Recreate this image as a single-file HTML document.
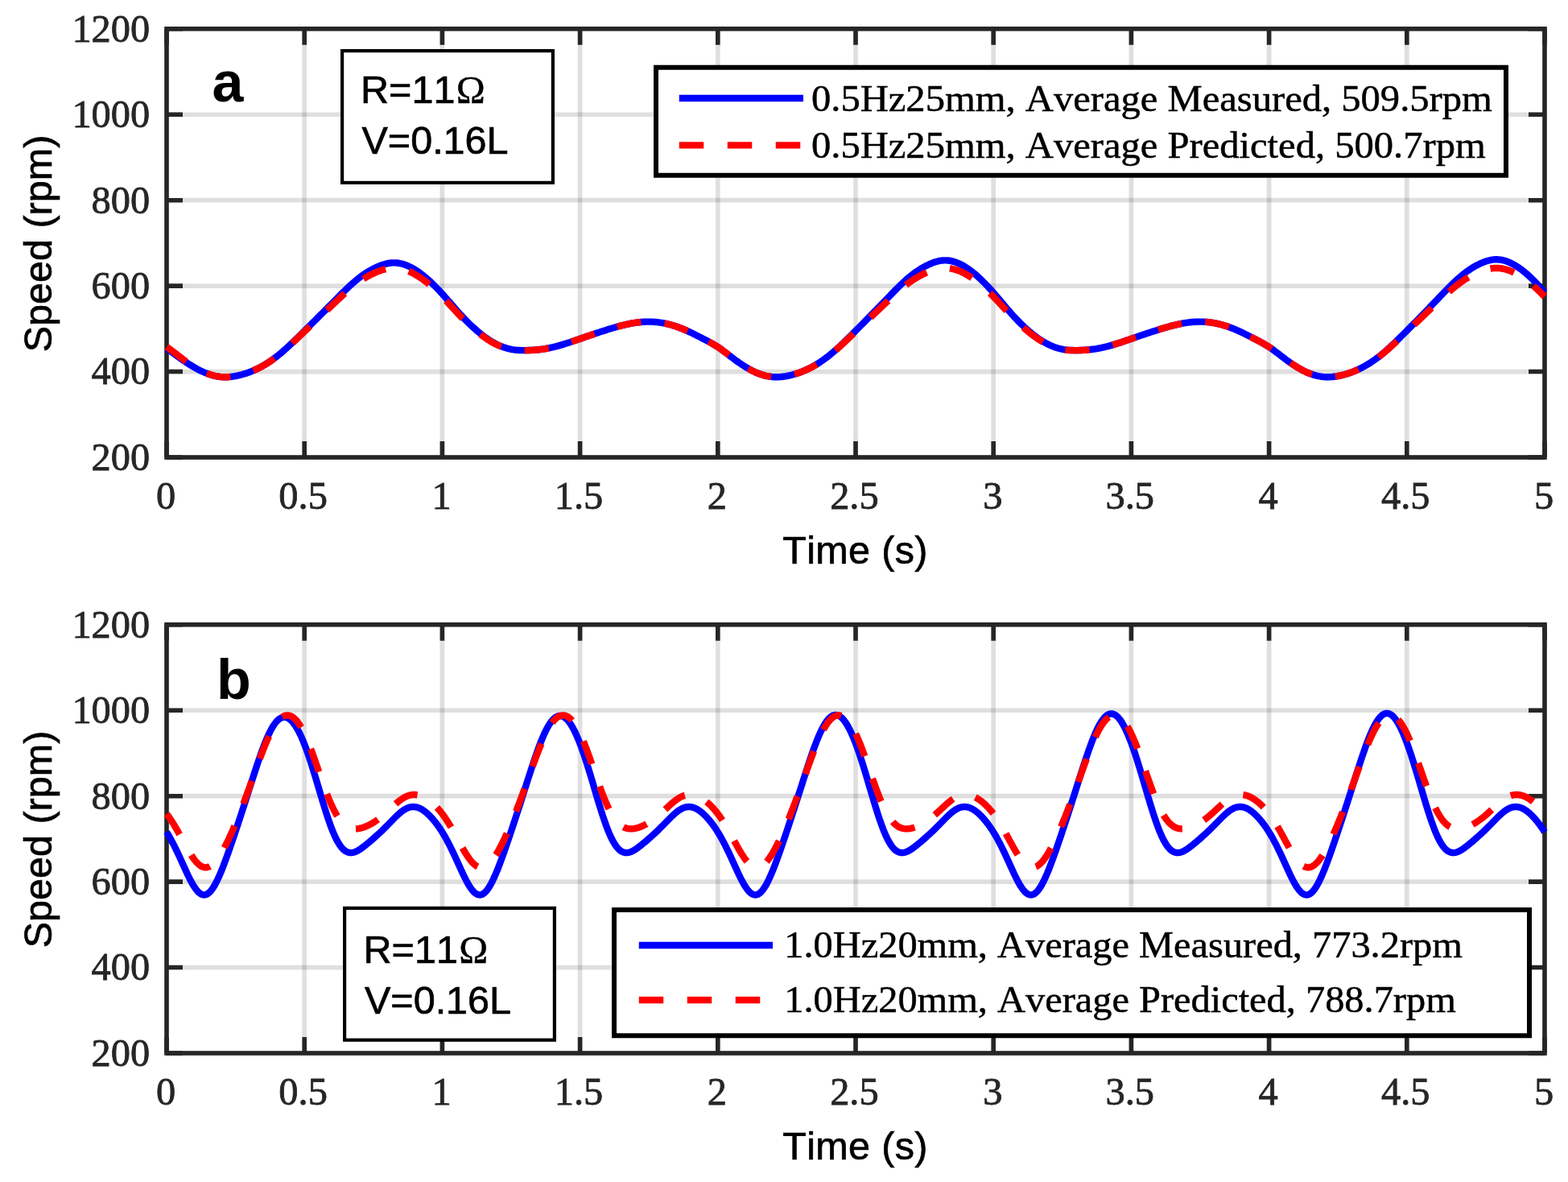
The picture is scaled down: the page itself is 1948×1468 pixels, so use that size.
<!DOCTYPE html>
<html><head><meta charset="utf-8"><title>Speed plots</title>
<style>html,body{margin:0;padding:0;background:#fff}svg{display:block}text{stroke-width:0.5px;font-kerning:none}.tk text{stroke-width:0.8px}.sn{stroke-width:0.7px}</style></head>
<body>
<svg width="1948" height="1468" viewBox="0 0 1948 1468">
<rect width="1948" height="1468" fill="#fff"/>
<g>
<path d="M378.20 35.80 V568.00 M549.40 35.80 V568.00 M720.60 35.80 V568.00 M891.80 35.80 V568.00 M1063.00 35.80 V568.00 M1234.20 35.80 V568.00 M1405.40 35.80 V568.00 M1576.60 35.80 V568.00 M1747.80 35.80 V568.00" stroke="#262626" stroke-opacity="0.15" stroke-width="5.70" fill="none"/>
<path d="M207.00 142.24 H1919.00 M207.00 248.68 H1919.00 M207.00 355.12 H1919.00 M207.00 461.56 H1919.00" stroke="#262626" stroke-opacity="0.15" stroke-width="5.70" fill="none"/>
<path d="M207.00 568.00 v-20.00 M207.00 35.80 v20.00 M378.20 568.00 v-20.00 M378.20 35.80 v20.00 M549.40 568.00 v-20.00 M549.40 35.80 v20.00 M720.60 568.00 v-20.00 M720.60 35.80 v20.00 M891.80 568.00 v-20.00 M891.80 35.80 v20.00 M1063.00 568.00 v-20.00 M1063.00 35.80 v20.00 M1234.20 568.00 v-20.00 M1234.20 35.80 v20.00 M1405.40 568.00 v-20.00 M1405.40 35.80 v20.00 M1576.60 568.00 v-20.00 M1576.60 35.80 v20.00 M1747.80 568.00 v-20.00 M1747.80 35.80 v20.00 M1919.00 568.00 v-20.00 M1919.00 35.80 v20.00 M207.00 35.80 h20.00 M1919.00 35.80 h-20.00 M207.00 142.24 h20.00 M1919.00 142.24 h-20.00 M207.00 248.68 h20.00 M1919.00 248.68 h-20.00 M207.00 355.12 h20.00 M1919.00 355.12 h-20.00 M207.00 461.56 h20.00 M1919.00 461.56 h-20.00 M207.00 568.00 h20.00 M1919.00 568.00 h-20.00" stroke="#262626" stroke-width="5.60" fill="none"/>
<rect x="207.00" y="35.80" width="1712.00" height="532.20" stroke="#262626" stroke-width="5.60" fill="none"/>
<path d="M207.00 432.82L208.71 433.97L210.42 435.15L212.14 436.35L213.85 437.57L215.56 438.81L217.27 440.06L218.98 441.31L220.70 442.55L222.41 443.80L224.12 445.03L225.83 446.24L227.54 447.44L229.26 448.61L230.97 449.77L232.68 450.90L234.39 452.02L236.10 453.10L237.82 454.16L239.53 455.20L241.24 456.20L242.95 457.17L244.66 458.11L246.38 459.02L248.09 459.89L249.80 460.72L251.51 461.52L253.22 462.28L254.94 463.00L256.65 463.68L258.36 464.31L260.07 464.91L261.78 465.46L263.50 465.96L265.21 466.42L266.92 466.83L268.63 467.19L270.34 467.50L272.06 467.76L273.77 467.96L275.48 468.12L277.19 468.22L278.90 468.26L280.62 468.26L282.33 468.21L284.04 468.11L285.75 467.97L287.46 467.79L289.18 467.56L290.89 467.30L292.60 467.01L294.31 466.68L296.02 466.31L297.74 465.92L299.45 465.49L301.16 465.03L302.87 464.54L304.58 464.01L306.30 463.46L308.01 462.87L309.72 462.24L311.43 461.59L313.14 460.90L314.86 460.18L316.57 459.43L318.28 458.64L319.99 457.82L321.70 456.97L323.42 456.08L325.13 455.15L326.84 454.19L328.55 453.20L330.26 452.16L331.98 451.10L333.69 449.99L335.40 448.85L337.11 447.67L338.82 446.46L340.54 445.21L342.25 443.93L343.96 442.60L345.67 441.24L347.38 439.85L349.10 438.43L350.81 436.97L352.52 435.48L354.23 433.97L355.94 432.44L357.66 430.87L359.37 429.29L361.08 427.69L362.79 426.07L364.50 424.43L366.22 422.78L367.93 421.12L369.64 419.45L371.35 417.77L373.06 416.08L374.78 414.39L376.49 412.69L378.20 410.99L379.91 409.30L381.62 407.60L383.34 405.90L385.05 404.20L386.76 402.51L388.47 400.81L390.18 399.11L391.90 397.41L393.61 395.71L395.32 394.00L397.03 392.30L398.74 390.59L400.46 388.88L402.17 387.17L403.88 385.45L405.59 383.73L407.30 382.01L409.02 380.29L410.73 378.56L412.44 376.83L414.15 375.10L415.86 373.37L417.58 371.64L419.29 369.91L421.00 368.19L422.71 366.47L424.42 364.77L426.14 363.08L427.85 361.41L429.56 359.75L431.27 358.12L432.98 356.50L434.70 354.92L436.41 353.36L438.12 351.83L439.83 350.34L441.54 348.88L443.26 347.46L444.97 346.08L446.68 344.74L448.39 343.44L450.10 342.20L451.82 340.99L453.53 339.83L455.24 338.72L456.95 337.65L458.66 336.62L460.38 335.64L462.09 334.69L463.80 333.79L465.51 332.93L467.22 332.11L468.94 331.34L470.65 330.60L472.36 329.92L474.07 329.28L475.78 328.70L477.50 328.18L479.21 327.71L480.92 327.31L482.63 326.98L484.34 326.71L486.06 326.52L487.77 326.40L489.48 326.37L491.19 326.41L492.90 326.53L494.62 326.73L496.33 327.01L498.04 327.36L499.75 327.79L501.46 328.29L503.18 328.86L504.89 329.50L506.60 330.21L508.31 330.98L510.02 331.81L511.74 332.71L513.45 333.66L515.16 334.68L516.87 335.74L518.58 336.86L520.30 338.04L522.01 339.26L523.72 340.54L525.43 341.86L527.14 343.24L528.86 344.66L530.57 346.13L532.28 347.65L533.99 349.21L535.70 350.81L537.42 352.45L539.13 354.13L540.84 355.85L542.55 357.61L544.26 359.40L545.98 361.21L547.69 363.06L549.40 364.94L551.11 366.84L552.82 368.77L554.54 370.71L556.25 372.67L557.96 374.63L559.67 376.60L561.38 378.58L563.10 380.55L564.81 382.51L566.52 384.47L568.23 386.41L569.94 388.33L571.66 390.23L573.37 392.10L575.08 393.94L576.79 395.75L578.50 397.53L580.22 399.27L581.93 400.98L583.64 402.66L585.35 404.29L587.06 405.90L588.78 407.46L590.49 408.99L592.20 410.48L593.91 411.94L595.62 413.35L597.34 414.73L599.05 416.06L600.76 417.36L602.47 418.62L604.18 419.84L605.90 421.01L607.61 422.15L609.32 423.24L611.03 424.28L612.74 425.28L614.46 426.23L616.17 427.13L617.88 427.99L619.59 428.79L621.30 429.55L623.02 430.25L624.73 430.91L626.44 431.51L628.15 432.07L629.86 432.57L631.58 433.02L633.29 433.43L635.00 433.78L636.71 434.08L638.42 434.34L640.14 434.55L641.85 434.73L643.56 434.86L645.27 434.96L646.98 435.04L648.70 435.08L650.41 435.10L652.12 435.11L653.83 435.09L655.54 435.07L657.26 435.02L658.97 434.96L660.68 434.88L662.39 434.78L664.10 434.66L665.82 434.53L667.53 434.37L669.24 434.20L670.95 434.01L672.66 433.80L674.38 433.56L676.09 433.31L677.80 433.04L679.51 432.74L681.22 432.43L682.94 432.09L684.65 431.73L686.36 431.35L688.07 430.95L689.78 430.53L691.50 430.09L693.21 429.62L694.92 429.15L696.63 428.65L698.34 428.14L700.06 427.62L701.77 427.09L703.48 426.55L705.19 426.00L706.90 425.43L708.62 424.87L710.33 424.29L712.04 423.71L713.75 423.13L715.46 422.54L717.18 421.95L718.89 421.36L720.60 420.77L722.31 420.18L724.02 419.58L725.74 418.99L727.45 418.40L729.16 417.81L730.87 417.22L732.58 416.64L734.30 416.06L736.01 415.48L737.72 414.90L739.43 414.33L741.14 413.76L742.86 413.19L744.57 412.63L746.28 412.08L747.99 411.52L749.70 410.97L751.42 410.43L753.13 409.89L754.84 409.35L756.55 408.82L758.26 408.30L759.98 407.78L761.69 407.27L763.40 406.77L765.11 406.28L766.82 405.79L768.54 405.32L770.25 404.86L771.96 404.41L773.67 403.98L775.38 403.56L777.10 403.16L778.81 402.77L780.52 402.40L782.23 402.05L783.94 401.72L785.66 401.41L787.37 401.12L789.08 400.86L790.79 400.62L792.50 400.40L794.22 400.21L795.93 400.04L797.64 399.90L799.35 399.78L801.06 399.69L802.78 399.63L804.49 399.60L806.20 399.59L807.91 399.62L809.62 399.67L811.34 399.75L813.05 399.87L814.76 400.01L816.47 400.18L818.18 400.38L819.90 400.60L821.61 400.86L823.32 401.15L825.03 401.46L826.74 401.81L828.46 402.18L830.17 402.59L831.88 403.02L833.59 403.48L835.30 403.97L837.02 404.49L838.73 405.03L840.44 405.60L842.15 406.20L843.86 406.83L845.58 407.48L847.29 408.16L849.00 408.86L850.71 409.58L852.42 410.33L854.14 411.09L855.85 411.87L857.56 412.67L859.27 413.49L860.98 414.32L862.70 415.16L864.41 416.02L866.12 416.88L867.83 417.75L869.54 418.63L871.26 419.52L872.97 420.40L874.68 421.29L876.39 422.18L878.10 423.07L879.82 423.97L881.53 424.89L883.24 425.82L884.95 426.78L886.66 427.77L888.38 428.79L890.09 429.85L891.80 430.96L893.51 432.11L895.22 433.31L896.94 434.54L898.65 435.80L900.36 437.09L902.07 438.39L903.78 439.70L905.50 441.03L907.21 442.35L908.92 443.66L910.63 444.96L912.34 446.24L914.06 447.51L915.77 448.75L917.48 449.97L919.19 451.17L920.90 452.34L922.62 453.48L924.33 454.59L926.04 455.66L927.75 456.69L929.46 457.69L931.18 458.65L932.89 459.57L934.60 460.45L936.31 461.29L938.02 462.08L939.74 462.83L941.45 463.54L943.16 464.20L944.87 464.81L946.58 465.38L948.30 465.90L950.01 466.37L951.72 466.79L953.43 467.16L955.14 467.47L956.86 467.74L958.57 467.95L960.28 468.10L961.99 468.20L963.70 468.25L965.42 468.25L967.13 468.20L968.84 468.11L970.55 467.97L972.26 467.78L973.98 467.56L975.69 467.30L977.40 467.00L979.11 466.67L980.82 466.31L982.54 465.92L984.25 465.49L985.96 465.03L987.67 464.54L989.38 464.01L991.10 463.45L992.81 462.86L994.52 462.24L996.23 461.58L997.94 460.90L999.66 460.18L1001.37 459.42L1003.08 458.64L1004.79 457.82L1006.50 456.96L1008.22 456.07L1009.93 455.14L1011.64 454.18L1013.35 453.18L1015.06 452.15L1016.78 451.08L1018.49 449.97L1020.20 448.83L1021.91 447.65L1023.62 446.44L1025.34 445.18L1027.05 443.90L1028.76 442.57L1030.47 441.21L1032.18 439.81L1033.90 438.38L1035.61 436.92L1037.32 435.43L1039.03 433.91L1040.74 432.37L1042.46 430.80L1044.17 429.21L1045.88 427.60L1047.59 425.97L1049.30 424.32L1051.02 422.66L1052.73 420.99L1054.44 419.31L1056.15 417.61L1057.86 415.91L1059.58 414.20L1061.29 412.49L1063.00 410.77L1064.71 409.06L1066.42 407.34L1068.14 405.62L1069.85 403.90L1071.56 402.18L1073.27 400.46L1074.98 398.73L1076.70 397.00L1078.41 395.27L1080.12 393.54L1081.83 391.80L1083.54 390.06L1085.26 388.31L1086.97 386.56L1088.68 384.81L1090.39 383.05L1092.10 381.29L1093.82 379.52L1095.53 377.74L1097.24 375.97L1098.95 374.19L1100.66 372.40L1102.38 370.62L1104.09 368.84L1105.80 367.06L1107.51 365.29L1109.22 363.53L1110.94 361.78L1112.65 360.04L1114.36 358.33L1116.07 356.63L1117.78 354.96L1119.50 353.31L1121.21 351.68L1122.92 350.09L1124.63 348.53L1126.34 347.01L1128.06 345.52L1129.77 344.07L1131.48 342.67L1133.19 341.32L1134.90 340.00L1136.62 338.74L1138.33 337.52L1140.04 336.35L1141.75 335.22L1143.46 334.13L1145.18 333.09L1146.89 332.10L1148.60 331.15L1150.31 330.24L1152.02 329.38L1153.74 328.56L1155.45 327.78L1157.16 327.06L1158.87 326.39L1160.58 325.78L1162.30 325.23L1164.01 324.74L1165.72 324.32L1167.43 323.97L1169.14 323.69L1170.86 323.49L1172.57 323.37L1174.28 323.33L1175.99 323.38L1177.70 323.51L1179.42 323.72L1181.13 324.01L1182.84 324.38L1184.55 324.83L1186.26 325.35L1187.98 325.95L1189.69 326.62L1191.40 327.36L1193.11 328.17L1194.82 329.05L1196.54 329.99L1198.25 330.99L1199.96 332.05L1201.67 333.17L1203.38 334.34L1205.10 335.57L1206.81 336.85L1208.52 338.19L1210.23 339.57L1211.94 341.01L1213.66 342.50L1215.37 344.03L1217.08 345.61L1218.79 347.23L1220.50 348.90L1222.22 350.61L1223.93 352.35L1225.64 354.14L1227.35 355.96L1229.06 357.81L1230.78 359.69L1232.49 361.60L1234.20 363.54L1235.91 365.51L1237.62 367.49L1239.34 369.49L1241.05 371.51L1242.76 373.53L1244.47 375.55L1246.18 377.58L1247.90 379.60L1249.61 381.62L1251.32 383.62L1253.03 385.61L1254.74 387.57L1256.46 389.52L1258.17 391.43L1259.88 393.31L1261.59 395.16L1263.30 396.97L1265.02 398.75L1266.73 400.50L1268.44 402.20L1270.15 403.87L1271.86 405.51L1273.58 407.10L1275.29 408.65L1277.00 410.17L1278.71 411.64L1280.42 413.08L1282.14 414.48L1283.85 415.83L1285.56 417.15L1287.27 418.42L1288.98 419.66L1290.70 420.85L1292.41 421.99L1294.12 423.10L1295.83 424.15L1297.54 425.16L1299.26 426.12L1300.97 427.03L1302.68 427.90L1304.39 428.71L1306.10 429.47L1307.82 430.19L1309.53 430.85L1311.24 431.46L1312.95 432.02L1314.66 432.53L1316.38 432.98L1318.09 433.39L1319.80 433.75L1321.51 434.05L1323.22 434.31L1324.94 434.53L1326.65 434.70L1328.36 434.84L1330.07 434.95L1331.78 435.02L1333.50 435.07L1335.21 435.09L1336.92 435.10L1338.63 435.09L1340.34 435.06L1342.06 435.01L1343.77 434.95L1345.48 434.87L1347.19 434.77L1348.90 434.66L1350.62 434.52L1352.33 434.37L1354.04 434.20L1355.75 434.01L1357.46 433.79L1359.18 433.56L1360.89 433.31L1362.60 433.04L1364.31 432.74L1366.02 432.43L1367.74 432.09L1369.45 431.73L1371.16 431.35L1372.87 430.95L1374.58 430.53L1376.30 430.08L1378.01 429.62L1379.72 429.15L1381.43 428.65L1383.14 428.14L1384.86 427.62L1386.57 427.09L1388.28 426.55L1389.99 425.99L1391.70 425.43L1393.42 424.87L1395.13 424.29L1396.84 423.71L1398.55 423.13L1400.26 422.54L1401.98 421.95L1403.69 421.36L1405.40 420.77L1407.11 420.18L1408.82 419.58L1410.54 418.99L1412.25 418.40L1413.96 417.81L1415.67 417.22L1417.38 416.64L1419.10 416.06L1420.81 415.48L1422.52 414.90L1424.23 414.33L1425.94 413.76L1427.66 413.19L1429.37 412.63L1431.08 412.08L1432.79 411.52L1434.50 410.97L1436.22 410.43L1437.93 409.89L1439.64 409.35L1441.35 408.82L1443.06 408.30L1444.78 407.78L1446.49 407.27L1448.20 406.77L1449.91 406.28L1451.62 405.79L1453.34 405.32L1455.05 404.86L1456.76 404.41L1458.47 403.98L1460.18 403.56L1461.90 403.16L1463.61 402.77L1465.32 402.40L1467.03 402.05L1468.74 401.72L1470.46 401.41L1472.17 401.12L1473.88 400.86L1475.59 400.62L1477.30 400.40L1479.02 400.21L1480.73 400.04L1482.44 399.90L1484.15 399.78L1485.86 399.69L1487.58 399.63L1489.29 399.60L1491.00 399.59L1492.71 399.62L1494.42 399.67L1496.14 399.75L1497.85 399.87L1499.56 400.01L1501.27 400.18L1502.98 400.38L1504.70 400.60L1506.41 400.86L1508.12 401.15L1509.83 401.46L1511.54 401.81L1513.26 402.18L1514.97 402.59L1516.68 403.02L1518.39 403.48L1520.10 403.97L1521.82 404.49L1523.53 405.03L1525.24 405.60L1526.95 406.20L1528.66 406.83L1530.38 407.48L1532.09 408.16L1533.80 408.86L1535.51 409.58L1537.22 410.33L1538.94 411.09L1540.65 411.87L1542.36 412.67L1544.07 413.49L1545.78 414.32L1547.50 415.16L1549.21 416.02L1550.92 416.88L1552.63 417.75L1554.34 418.63L1556.06 419.52L1557.77 420.40L1559.48 421.29L1561.19 422.18L1562.90 423.07L1564.62 423.97L1566.33 424.89L1568.04 425.82L1569.75 426.78L1571.46 427.77L1573.18 428.79L1574.89 429.85L1576.60 430.96L1578.31 432.11L1580.02 433.31L1581.74 434.54L1583.45 435.80L1585.16 437.09L1586.87 438.39L1588.58 439.70L1590.30 441.03L1592.01 442.35L1593.72 443.66L1595.43 444.96L1597.14 446.24L1598.86 447.51L1600.57 448.75L1602.28 449.97L1603.99 451.17L1605.70 452.34L1607.42 453.48L1609.13 454.59L1610.84 455.66L1612.55 456.69L1614.26 457.69L1615.98 458.65L1617.69 459.57L1619.40 460.45L1621.11 461.29L1622.82 462.08L1624.54 462.83L1626.25 463.54L1627.96 464.20L1629.67 464.81L1631.38 465.38L1633.10 465.90L1634.81 466.37L1636.52 466.79L1638.23 467.16L1639.94 467.47L1641.66 467.74L1643.37 467.95L1645.08 468.10L1646.79 468.20L1648.50 468.25L1650.22 468.25L1651.93 468.20L1653.64 468.11L1655.35 467.97L1657.06 467.78L1658.78 467.56L1660.49 467.30L1662.20 467.00L1663.91 466.67L1665.62 466.31L1667.34 465.92L1669.05 465.49L1670.76 465.03L1672.47 464.54L1674.18 464.01L1675.90 463.45L1677.61 462.86L1679.32 462.24L1681.03 461.58L1682.74 460.90L1684.46 460.18L1686.17 459.42L1687.88 458.64L1689.59 457.81L1691.30 456.96L1693.02 456.07L1694.73 455.14L1696.44 454.18L1698.15 453.18L1699.86 452.15L1701.58 451.08L1703.29 449.97L1705.00 448.82L1706.71 447.64L1708.42 446.43L1710.14 445.17L1711.85 443.88L1713.56 442.56L1715.27 441.19L1716.98 439.80L1718.70 438.36L1720.41 436.90L1722.12 435.41L1723.83 433.89L1725.54 432.34L1727.26 430.77L1728.97 429.18L1730.68 427.57L1732.39 425.93L1734.10 424.28L1735.82 422.62L1737.53 420.94L1739.24 419.25L1740.95 417.56L1742.66 415.85L1744.38 414.14L1746.09 412.42L1747.80 410.70L1749.51 408.97L1751.22 407.25L1752.94 405.53L1754.65 403.80L1756.36 402.07L1758.07 400.34L1759.78 398.60L1761.50 396.86L1763.21 395.12L1764.92 393.37L1766.63 391.62L1768.34 389.87L1770.06 388.11L1771.77 386.35L1773.48 384.58L1775.19 382.81L1776.90 381.03L1778.62 379.25L1780.33 377.46L1782.04 375.66L1783.75 373.87L1785.46 372.06L1787.18 370.26L1788.89 368.46L1790.60 366.66L1792.31 364.87L1794.02 363.09L1795.74 361.32L1797.45 359.57L1799.16 357.83L1800.87 356.11L1802.58 354.41L1804.30 352.74L1806.01 351.09L1807.72 349.48L1809.43 347.90L1811.14 346.35L1812.86 344.84L1814.57 343.37L1816.28 341.95L1817.99 340.57L1819.70 339.24L1821.42 337.95L1823.13 336.71L1824.84 335.51L1826.55 334.36L1828.26 333.26L1829.98 332.20L1831.69 331.19L1833.40 330.22L1835.11 329.29L1836.82 328.42L1838.54 327.58L1840.25 326.79L1841.96 326.06L1843.67 325.38L1845.38 324.75L1847.10 324.19L1848.81 323.70L1850.52 323.27L1852.23 322.91L1853.94 322.63L1855.66 322.43L1857.37 322.31L1859.08 322.27L1860.79 322.32L1862.50 322.45L1864.22 322.66L1865.93 322.96L1867.64 323.34L1869.35 323.79L1871.06 324.32L1872.78 324.93L1874.49 325.61L1876.20 326.37L1877.91 327.19L1879.62 328.08L1881.34 329.03L1883.05 330.05L1884.76 331.13L1886.47 332.26L1888.18 333.46L1889.90 334.70L1891.61 336.01L1893.32 337.36L1895.03 338.77L1896.74 340.23L1898.46 341.74L1900.17 343.29L1901.88 344.89L1903.59 346.54L1905.30 348.23L1907.02 349.96L1908.73 351.73L1910.44 353.54L1912.15 355.38L1913.86 357.25L1915.58 359.16L1917.29 361.09L1919.00 363.05" stroke="#0000ff" stroke-width="8.40" fill="none" stroke-linejoin="round"/>
<path d="M207.00 430.96L208.71 432.11L210.42 433.31L212.14 434.54L213.85 435.80L215.56 437.09L217.27 438.39L218.98 439.70L220.70 441.03L222.41 442.35L224.12 443.66L225.83 444.96L227.54 446.24L229.26 447.51L230.97 448.75L232.68 449.97L234.39 451.17L236.10 452.34L237.82 453.48L239.53 454.59L241.24 455.66L242.95 456.69L244.66 457.69L246.38 458.65L248.09 459.57L249.80 460.45L251.51 461.29L253.22 462.08L254.94 462.83L256.65 463.54L258.36 464.20L260.07 464.81L261.78 465.38L263.50 465.90L265.21 466.37L266.92 466.79L268.63 467.16L270.34 467.47L272.06 467.74L273.77 467.95L275.48 468.10L277.19 468.21L278.90 468.26L280.62 468.26L282.33 468.21L284.04 468.11L285.75 467.97L287.46 467.79L289.18 467.57L290.89 467.31L292.60 467.01L294.31 466.69L296.02 466.33L297.74 465.93L299.45 465.51L301.16 465.05L302.87 464.56L304.58 464.03L306.30 463.48L308.01 462.89L309.72 462.27L311.43 461.62L313.14 460.93L314.86 460.22L316.57 459.47L318.28 458.69L319.99 457.87L321.70 457.02L323.42 456.14L325.13 455.22L326.84 454.27L328.55 453.28L330.26 452.25L331.98 451.19L333.69 450.10L335.40 448.97L337.11 447.80L338.82 446.60L340.54 445.36L342.25 444.09L343.96 442.78L345.67 441.44L347.38 440.07L349.10 438.66L350.81 437.22L352.52 435.76L354.23 434.27L355.94 432.75L357.66 431.22L359.37 429.67L361.08 428.09L362.79 426.50L364.50 424.90L366.22 423.29L367.93 421.66L369.64 420.03L371.35 418.39L373.06 416.75L374.78 415.10L376.49 413.45L378.20 411.81L379.91 410.16L381.62 408.52L383.34 406.89L385.05 405.25L386.76 403.62L388.47 401.99L390.18 400.36L391.90 398.73L393.61 397.10L395.32 395.48L397.03 393.86L398.74 392.23L400.46 390.61L402.17 388.99L403.88 387.37L405.59 385.75L407.30 384.13L409.02 382.51L410.73 380.88L412.44 379.26L414.15 377.64L415.86 376.02L417.58 374.40L419.29 372.79L421.00 371.18L422.71 369.59L424.42 368.00L426.14 366.44L427.85 364.89L429.56 363.35L431.27 361.84L432.98 360.36L434.70 358.90L436.41 357.46L438.12 356.06L439.83 354.69L441.54 353.35L443.26 352.05L444.97 350.79L446.68 349.57L448.39 348.40L450.10 347.27L451.82 346.18L453.53 345.13L455.24 344.12L456.95 343.15L458.66 342.22L460.38 341.33L462.09 340.48L463.80 339.67L465.51 338.89L467.22 338.15L468.94 337.45L470.65 336.79L472.36 336.16L474.07 335.58L475.78 335.05L477.50 334.57L479.21 334.15L480.92 333.78L482.63 333.48L484.34 333.23L486.06 333.06L487.77 332.95L489.48 332.91L491.19 332.95L492.90 333.06L494.62 333.25L496.33 333.50L498.04 333.82L499.75 334.22L501.46 334.67L503.18 335.19L504.89 335.78L506.60 336.43L508.31 337.13L510.02 337.90L511.74 338.72L513.45 339.59L515.16 340.52L516.87 341.50L518.58 342.52L520.30 343.60L522.01 344.72L523.72 345.89L525.43 347.11L527.14 348.38L528.86 349.69L530.57 351.04L532.28 352.44L533.99 353.88L535.70 355.36L537.42 356.88L539.13 358.44L540.84 360.03L542.55 361.66L544.26 363.32L545.98 365.02L547.69 366.74L549.40 368.50L551.11 370.27L552.82 372.08L554.54 373.90L556.25 375.73L557.96 377.58L559.67 379.44L561.38 381.29L563.10 383.15L564.81 385.01L566.52 386.85L568.23 388.69L569.94 390.50L571.66 392.30L573.37 394.08L575.08 395.82L576.79 397.54L578.50 399.23L580.22 400.88L581.93 402.51L583.64 404.10L585.35 405.66L587.06 407.19L588.78 408.68L590.49 410.14L592.20 411.57L593.91 412.96L595.62 414.31L597.34 415.63L599.05 416.91L600.76 418.15L602.47 419.36L604.18 420.53L605.90 421.66L607.61 422.75L609.32 423.80L611.03 424.80L612.74 425.77L614.46 426.68L616.17 427.55L617.88 428.38L619.59 429.15L621.30 429.88L623.02 430.56L624.73 431.19L626.44 431.78L628.15 432.31L629.86 432.80L631.58 433.23L633.29 433.62L635.00 433.95L636.71 434.24L638.42 434.49L640.14 434.69L641.85 434.85L643.56 434.97L645.27 435.07L646.98 435.13L648.70 435.17L650.41 435.18L652.12 435.18L653.83 435.16L655.54 435.12L657.26 435.07L658.97 435.00L660.68 434.92L662.39 434.82L664.10 434.70L665.82 434.56L667.53 434.40L669.24 434.23L670.95 434.03L672.66 433.82L674.38 433.58L676.09 433.33L677.80 433.05L679.51 432.76L681.22 432.44L682.94 432.10L684.65 431.74L686.36 431.36L688.07 430.96L689.78 430.53L691.50 430.09L693.21 429.63L694.92 429.15L696.63 428.66L698.34 428.15L700.06 427.63L701.77 427.09L703.48 426.55L705.19 426.00L706.90 425.44L708.62 424.87L710.33 424.29L712.04 423.71L713.75 423.13L715.46 422.54L717.18 421.95L718.89 421.36L720.60 420.77L722.31 420.18L724.02 419.58L725.74 418.99L727.45 418.40L729.16 417.81L730.87 417.23L732.58 416.64L734.30 416.06L736.01 415.48L737.72 414.90L739.43 414.33L741.14 413.76L742.86 413.19L744.57 412.63L746.28 412.08L747.99 411.52L749.70 410.97L751.42 410.43L753.13 409.89L754.84 409.35L756.55 408.82L758.26 408.30L759.98 407.78L761.69 407.27L763.40 406.77L765.11 406.28L766.82 405.79L768.54 405.32L770.25 404.86L771.96 404.41L773.67 403.98L775.38 403.56L777.10 403.16L778.81 402.77L780.52 402.40L782.23 402.05L783.94 401.72L785.66 401.41L787.37 401.12L789.08 400.86L790.79 400.62L792.50 400.40L794.22 400.21L795.93 400.04L797.64 399.90L799.35 399.78L801.06 399.69L802.78 399.63L804.49 399.60L806.20 399.59L807.91 399.62L809.62 399.67L811.34 399.75L813.05 399.87L814.76 400.01L816.47 400.18L818.18 400.38L819.90 400.60L821.61 400.86L823.32 401.15L825.03 401.46L826.74 401.81L828.46 402.18L830.17 402.59L831.88 403.02L833.59 403.48L835.30 403.97L837.02 404.49L838.73 405.03L840.44 405.60L842.15 406.20L843.86 406.83L845.58 407.48L847.29 408.16L849.00 408.86L850.71 409.58L852.42 410.33L854.14 411.09L855.85 411.87L857.56 412.67L859.27 413.49L860.98 414.32L862.70 415.16L864.41 416.02L866.12 416.88L867.83 417.75L869.54 418.63L871.26 419.52L872.97 420.40L874.68 421.29L876.39 422.18L878.10 423.07L879.82 423.97L881.53 424.89L883.24 425.82L884.95 426.78L886.66 427.77L888.38 428.79L890.09 429.85L891.80 430.96L893.51 432.11L895.22 433.31L896.94 434.54L898.65 435.80L900.36 437.09L902.07 438.39L903.78 439.70L905.50 441.03L907.21 442.35L908.92 443.66L910.63 444.96L912.34 446.24L914.06 447.51L915.77 448.75L917.48 449.97L919.19 451.17L920.90 452.34L922.62 453.48L924.33 454.59L926.04 455.66L927.75 456.69L929.46 457.69L931.18 458.65L932.89 459.57L934.60 460.45L936.31 461.29L938.02 462.08L939.74 462.83L941.45 463.54L943.16 464.20L944.87 464.81L946.58 465.38L948.30 465.90L950.01 466.37L951.72 466.79L953.43 467.16L955.14 467.47L956.86 467.74L958.57 467.95L960.28 468.10L961.99 468.21L963.70 468.26L965.42 468.26L967.13 468.21L968.84 468.11L970.55 467.97L972.26 467.79L973.98 467.57L975.69 467.31L977.40 467.01L979.11 466.69L980.82 466.33L982.54 465.93L984.25 465.51L985.96 465.05L987.67 464.56L989.38 464.03L991.10 463.48L992.81 462.89L994.52 462.27L996.23 461.62L997.94 460.93L999.66 460.22L1001.37 459.47L1003.08 458.69L1004.79 457.87L1006.50 457.02L1008.22 456.14L1009.93 455.22L1011.64 454.27L1013.35 453.28L1015.06 452.25L1016.78 451.19L1018.49 450.10L1020.20 448.97L1021.91 447.80L1023.62 446.60L1025.34 445.36L1027.05 444.09L1028.76 442.78L1030.47 441.44L1032.18 440.07L1033.90 438.66L1035.61 437.22L1037.32 435.76L1039.03 434.27L1040.74 432.75L1042.46 431.22L1044.17 429.67L1045.88 428.09L1047.59 426.50L1049.30 424.90L1051.02 423.29L1052.73 421.66L1054.44 420.03L1056.15 418.39L1057.86 416.75L1059.58 415.10L1061.29 413.45L1063.00 411.81L1064.71 410.16L1066.42 408.52L1068.14 406.89L1069.85 405.25L1071.56 403.62L1073.27 401.99L1074.98 400.36L1076.70 398.73L1078.41 397.10L1080.12 395.48L1081.83 393.86L1083.54 392.23L1085.26 390.61L1086.97 388.99L1088.68 387.37L1090.39 385.75L1092.10 384.13L1093.82 382.51L1095.53 380.88L1097.24 379.26L1098.95 377.64L1100.66 376.02L1102.38 374.40L1104.09 372.79L1105.80 371.18L1107.51 369.59L1109.22 368.00L1110.94 366.44L1112.65 364.89L1114.36 363.35L1116.07 361.84L1117.78 360.36L1119.50 358.90L1121.21 357.46L1122.92 356.06L1124.63 354.69L1126.34 353.35L1128.06 352.05L1129.77 350.79L1131.48 349.57L1133.19 348.40L1134.90 347.27L1136.62 346.18L1138.33 345.13L1140.04 344.12L1141.75 343.15L1143.46 342.22L1145.18 341.33L1146.89 340.48L1148.60 339.67L1150.31 338.89L1152.02 338.15L1153.74 337.45L1155.45 336.79L1157.16 336.16L1158.87 335.58L1160.58 335.05L1162.30 334.57L1164.01 334.15L1165.72 333.78L1167.43 333.48L1169.14 333.23L1170.86 333.06L1172.57 332.95L1174.28 332.91L1175.99 332.95L1177.70 333.06L1179.42 333.25L1181.13 333.50L1182.84 333.82L1184.55 334.22L1186.26 334.67L1187.98 335.19L1189.69 335.78L1191.40 336.43L1193.11 337.13L1194.82 337.90L1196.54 338.72L1198.25 339.59L1199.96 340.52L1201.67 341.50L1203.38 342.52L1205.10 343.60L1206.81 344.72L1208.52 345.89L1210.23 347.11L1211.94 348.38L1213.66 349.69L1215.37 351.04L1217.08 352.44L1218.79 353.88L1220.50 355.36L1222.22 356.88L1223.93 358.44L1225.64 360.03L1227.35 361.66L1229.06 363.32L1230.78 365.02L1232.49 366.74L1234.20 368.50L1235.91 370.27L1237.62 372.08L1239.34 373.90L1241.05 375.73L1242.76 377.58L1244.47 379.44L1246.18 381.29L1247.90 383.15L1249.61 385.01L1251.32 386.85L1253.03 388.69L1254.74 390.50L1256.46 392.30L1258.17 394.08L1259.88 395.82L1261.59 397.54L1263.30 399.23L1265.02 400.88L1266.73 402.51L1268.44 404.10L1270.15 405.66L1271.86 407.19L1273.58 408.68L1275.29 410.14L1277.00 411.57L1278.71 412.96L1280.42 414.31L1282.14 415.63L1283.85 416.91L1285.56 418.15L1287.27 419.36L1288.98 420.53L1290.70 421.66L1292.41 422.75L1294.12 423.80L1295.83 424.80L1297.54 425.77L1299.26 426.68L1300.97 427.55L1302.68 428.38L1304.39 429.15L1306.10 429.88L1307.82 430.56L1309.53 431.19L1311.24 431.78L1312.95 432.31L1314.66 432.80L1316.38 433.23L1318.09 433.62L1319.80 433.95L1321.51 434.24L1323.22 434.49L1324.94 434.69L1326.65 434.85L1328.36 434.97L1330.07 435.07L1331.78 435.13L1333.50 435.17L1335.21 435.18L1336.92 435.18L1338.63 435.16L1340.34 435.12L1342.06 435.07L1343.77 435.00L1345.48 434.92L1347.19 434.82L1348.90 434.70L1350.62 434.56L1352.33 434.40L1354.04 434.23L1355.75 434.03L1357.46 433.82L1359.18 433.58L1360.89 433.33L1362.60 433.05L1364.31 432.76L1366.02 432.44L1367.74 432.10L1369.45 431.74L1371.16 431.36L1372.87 430.96L1374.58 430.53L1376.30 430.09L1378.01 429.63L1379.72 429.15L1381.43 428.66L1383.14 428.15L1384.86 427.63L1386.57 427.09L1388.28 426.55L1389.99 426.00L1391.70 425.44L1393.42 424.87L1395.13 424.29L1396.84 423.71L1398.55 423.13L1400.26 422.54L1401.98 421.95L1403.69 421.36L1405.40 420.77L1407.11 420.18L1408.82 419.58L1410.54 418.99L1412.25 418.40L1413.96 417.81L1415.67 417.23L1417.38 416.64L1419.10 416.06L1420.81 415.48L1422.52 414.90L1424.23 414.33L1425.94 413.76L1427.66 413.19L1429.37 412.63L1431.08 412.08L1432.79 411.52L1434.50 410.97L1436.22 410.43L1437.93 409.89L1439.64 409.35L1441.35 408.82L1443.06 408.30L1444.78 407.78L1446.49 407.27L1448.20 406.77L1449.91 406.28L1451.62 405.79L1453.34 405.32L1455.05 404.86L1456.76 404.41L1458.47 403.98L1460.18 403.56L1461.90 403.16L1463.61 402.77L1465.32 402.40L1467.03 402.05L1468.74 401.72L1470.46 401.41L1472.17 401.12L1473.88 400.86L1475.59 400.62L1477.30 400.40L1479.02 400.21L1480.73 400.04L1482.44 399.90L1484.15 399.78L1485.86 399.69L1487.58 399.63L1489.29 399.60L1491.00 399.59L1492.71 399.62L1494.42 399.67L1496.14 399.75L1497.85 399.87L1499.56 400.01L1501.27 400.18L1502.98 400.38L1504.70 400.60L1506.41 400.86L1508.12 401.15L1509.83 401.46L1511.54 401.81L1513.26 402.18L1514.97 402.59L1516.68 403.02L1518.39 403.48L1520.10 403.97L1521.82 404.49L1523.53 405.03L1525.24 405.60L1526.95 406.20L1528.66 406.83L1530.38 407.48L1532.09 408.16L1533.80 408.86L1535.51 409.58L1537.22 410.33L1538.94 411.09L1540.65 411.87L1542.36 412.67L1544.07 413.49L1545.78 414.32L1547.50 415.16L1549.21 416.02L1550.92 416.88L1552.63 417.75L1554.34 418.63L1556.06 419.52L1557.77 420.40L1559.48 421.29L1561.19 422.18L1562.90 423.07L1564.62 423.97L1566.33 424.89L1568.04 425.82L1569.75 426.78L1571.46 427.77L1573.18 428.79L1574.89 429.85L1576.60 430.96L1578.31 432.11L1580.02 433.31L1581.74 434.54L1583.45 435.80L1585.16 437.09L1586.87 438.39L1588.58 439.70L1590.30 441.03L1592.01 442.35L1593.72 443.66L1595.43 444.96L1597.14 446.24L1598.86 447.51L1600.57 448.75L1602.28 449.97L1603.99 451.17L1605.70 452.34L1607.42 453.48L1609.13 454.59L1610.84 455.66L1612.55 456.69L1614.26 457.69L1615.98 458.65L1617.69 459.57L1619.40 460.45L1621.11 461.29L1622.82 462.08L1624.54 462.83L1626.25 463.54L1627.96 464.20L1629.67 464.81L1631.38 465.38L1633.10 465.90L1634.81 466.37L1636.52 466.79L1638.23 467.16L1639.94 467.47L1641.66 467.74L1643.37 467.95L1645.08 468.10L1646.79 468.21L1648.50 468.26L1650.22 468.26L1651.93 468.21L1653.64 468.11L1655.35 467.97L1657.06 467.79L1658.78 467.57L1660.49 467.31L1662.20 467.01L1663.91 466.69L1665.62 466.33L1667.34 465.93L1669.05 465.51L1670.76 465.05L1672.47 464.56L1674.18 464.03L1675.90 463.48L1677.61 462.89L1679.32 462.27L1681.03 461.62L1682.74 460.93L1684.46 460.22L1686.17 459.47L1687.88 458.69L1689.59 457.87L1691.30 457.02L1693.02 456.14L1694.73 455.22L1696.44 454.27L1698.15 453.28L1699.86 452.25L1701.58 451.19L1703.29 450.10L1705.00 448.97L1706.71 447.80L1708.42 446.60L1710.14 445.36L1711.85 444.09L1713.56 442.78L1715.27 441.44L1716.98 440.07L1718.70 438.66L1720.41 437.22L1722.12 435.76L1723.83 434.27L1725.54 432.75L1727.26 431.22L1728.97 429.67L1730.68 428.09L1732.39 426.50L1734.10 424.90L1735.82 423.29L1737.53 421.66L1739.24 420.03L1740.95 418.39L1742.66 416.75L1744.38 415.10L1746.09 413.45L1747.80 411.81L1749.51 410.16L1751.22 408.52L1752.94 406.89L1754.65 405.25L1756.36 403.62L1758.07 401.99L1759.78 400.36L1761.50 398.73L1763.21 397.10L1764.92 395.48L1766.63 393.86L1768.34 392.23L1770.06 390.61L1771.77 388.99L1773.48 387.37L1775.19 385.75L1776.90 384.13L1778.62 382.51L1780.33 380.88L1782.04 379.26L1783.75 377.64L1785.46 376.02L1787.18 374.40L1788.89 372.79L1790.60 371.18L1792.31 369.59L1794.02 368.00L1795.74 366.44L1797.45 364.89L1799.16 363.35L1800.87 361.84L1802.58 360.36L1804.30 358.90L1806.01 357.46L1807.72 356.06L1809.43 354.69L1811.14 353.35L1812.86 352.05L1814.57 350.79L1816.28 349.57L1817.99 348.40L1819.70 347.27L1821.42 346.18L1823.13 345.13L1824.84 344.12L1826.55 343.15L1828.26 342.22L1829.98 341.33L1831.69 340.48L1833.40 339.67L1835.11 338.89L1836.82 338.15L1838.54 337.45L1840.25 336.79L1841.96 336.16L1843.67 335.58L1845.38 335.05L1847.10 334.57L1848.81 334.15L1850.52 333.78L1852.23 333.48L1853.94 333.23L1855.66 333.06L1857.37 332.95L1859.08 332.91L1860.79 332.95L1862.50 333.06L1864.22 333.25L1865.93 333.50L1867.64 333.82L1869.35 334.22L1871.06 334.67L1872.78 335.19L1874.49 335.78L1876.20 336.43L1877.91 337.13L1879.62 337.90L1881.34 338.72L1883.05 339.59L1884.76 340.52L1886.47 341.50L1888.18 342.52L1889.90 343.60L1891.61 344.72L1893.32 345.89L1895.03 347.11L1896.74 348.38L1898.46 349.69L1900.17 351.04L1901.88 352.44L1903.59 353.88L1905.30 355.36L1907.02 356.88L1908.73 358.44L1910.44 360.03L1912.15 361.66L1913.86 363.32L1915.58 365.02L1917.29 366.74L1919.00 368.50" stroke="#ff0000" stroke-width="8.40" fill="none" stroke-dasharray="30.3 29.33" stroke-linejoin="round"/>
<g class="tk" font-family="Liberation Serif, serif" font-size="48.4" fill="#262626" stroke="#262626">
<text x="206.10" y="631.75" text-anchor="middle">0</text>
<text x="376.60" y="631.75" text-anchor="middle">0.5</text>
<text x="548.50" y="631.75" text-anchor="middle">1</text>
<text x="719.00" y="631.75" text-anchor="middle">1.5</text>
<text x="890.90" y="631.75" text-anchor="middle">2</text>
<text x="1061.40" y="631.75" text-anchor="middle">2.5</text>
<text x="1233.30" y="631.75" text-anchor="middle">3</text>
<text x="1403.80" y="631.75" text-anchor="middle">3.5</text>
<text x="1575.70" y="631.75" text-anchor="middle">4</text>
<text x="1746.20" y="631.75" text-anchor="middle">4.5</text>
<text x="1918.10" y="631.75" text-anchor="middle">5</text>
<text x="186.20" y="51.70" text-anchor="end">1200</text>
<text x="186.20" y="158.14" text-anchor="end">1000</text>
<text x="186.20" y="264.58" text-anchor="end">800</text>
<text x="186.20" y="371.02" text-anchor="end">600</text>
<text x="186.20" y="477.46" text-anchor="end">400</text>
<text x="186.20" y="583.90" text-anchor="end">200</text>
</g>
<text class="sn" font-family="Liberation Sans, sans-serif" font-size="48.5" fill="#000" stroke="#000" text-anchor="middle" letter-spacing="0.35" x="1062.50" y="700.00">Time (s)</text>
<text class="sn" font-family="Liberation Sans, sans-serif" font-size="48.5" fill="#000" stroke="#000" text-anchor="middle" transform="translate(64.00 302.50) rotate(-90)">Speed (rpm)</text>
<text font-family="Liberation Sans, sans-serif" font-size="70" font-weight="bold" fill="#000" x="263.50" y="126.25">a</text><rect x="425.10" y="63.10" width="261.80" height="163.80" fill="#fff" stroke="#000" stroke-width="4.20"/><text class="sn" font-family="Liberation Sans, sans-serif" font-size="48.5" fill="#000" stroke="#000" x="448.10" y="128.00">R=11<tspan font-family="Liberation Serif, serif" stroke-width="0.4" dx="1.25">Ω</tspan></text><text class="sn" font-family="Liberation Sans, sans-serif" font-size="48.5" fill="#000" stroke="#000" x="449.50" y="190.75">V=0.16L</text><rect x="815.00" y="83.75" width="1056.00" height="134.00" fill="#fff" stroke="#000" stroke-width="6.00"/><path d="M843.75 122.00 H998.00" stroke="#0000ff" stroke-width="8.40"/><path d="M843.75 180.40 H998.00" stroke="#ff0000" stroke-width="8.40" stroke-dasharray="30.5 29.5"/><g font-family="Liberation Serif, serif" font-size="46.0" fill="#000" stroke="#000" transform="translate(1008.00 0) scale(1.0565 1)"><text x="0" y="138.25">0.5Hz25mm, Average Measured, 509.5rpm</text><text x="0" y="195.75">0.5Hz25mm, Average Predicted, 500.7rpm</text></g>
</g>
<g>
<path d="M378.20 775.80 V1308.00 M549.40 775.80 V1308.00 M720.60 775.80 V1308.00 M891.80 775.80 V1308.00 M1063.00 775.80 V1308.00 M1234.20 775.80 V1308.00 M1405.40 775.80 V1308.00 M1576.60 775.80 V1308.00 M1747.80 775.80 V1308.00" stroke="#262626" stroke-opacity="0.15" stroke-width="5.70" fill="none"/>
<path d="M207.00 882.24 H1919.00 M207.00 988.68 H1919.00 M207.00 1095.12 H1919.00 M207.00 1201.56 H1919.00" stroke="#262626" stroke-opacity="0.15" stroke-width="5.70" fill="none"/>
<path d="M207.00 1308.00 v-20.00 M207.00 775.80 v20.00 M378.20 1308.00 v-20.00 M378.20 775.80 v20.00 M549.40 1308.00 v-20.00 M549.40 775.80 v20.00 M720.60 1308.00 v-20.00 M720.60 775.80 v20.00 M891.80 1308.00 v-20.00 M891.80 775.80 v20.00 M1063.00 1308.00 v-20.00 M1063.00 775.80 v20.00 M1234.20 1308.00 v-20.00 M1234.20 775.80 v20.00 M1405.40 1308.00 v-20.00 M1405.40 775.80 v20.00 M1576.60 1308.00 v-20.00 M1576.60 775.80 v20.00 M1747.80 1308.00 v-20.00 M1747.80 775.80 v20.00 M1919.00 1308.00 v-20.00 M1919.00 775.80 v20.00 M207.00 775.80 h20.00 M1919.00 775.80 h-20.00 M207.00 882.24 h20.00 M1919.00 882.24 h-20.00 M207.00 988.68 h20.00 M1919.00 988.68 h-20.00 M207.00 1095.12 h20.00 M1919.00 1095.12 h-20.00 M207.00 1201.56 h20.00 M1919.00 1201.56 h-20.00 M207.00 1308.00 h20.00 M1919.00 1308.00 h-20.00" stroke="#262626" stroke-width="5.60" fill="none"/>
<rect x="207.00" y="775.80" width="1712.00" height="532.20" stroke="#262626" stroke-width="5.60" fill="none"/>
<path d="M207.00 1033.44L208.71 1036.25L210.42 1039.18L212.14 1042.22L213.85 1045.39L215.56 1048.68L217.27 1052.07L218.98 1055.56L220.70 1059.15L222.41 1062.80L224.12 1066.52L225.83 1070.28L227.54 1074.05L229.26 1077.81L230.97 1081.54L232.68 1085.19L234.39 1088.74L236.10 1092.16L237.82 1095.40L239.53 1098.44L241.24 1101.23L242.95 1103.74L244.66 1105.95L246.38 1107.82L248.09 1109.32L249.80 1110.43L251.51 1111.14L253.22 1111.44L254.94 1111.31L256.65 1110.75L258.36 1109.77L260.07 1108.38L261.78 1106.59L263.50 1104.41L265.21 1101.88L266.92 1099.00L268.63 1095.82L270.34 1092.35L272.06 1088.63L273.77 1084.68L275.48 1080.53L277.19 1076.20L278.90 1071.72L280.62 1067.11L282.33 1062.38L284.04 1057.57L285.75 1052.67L287.46 1047.71L289.18 1042.69L290.89 1037.62L292.60 1032.52L294.31 1027.37L296.02 1022.19L297.74 1016.97L299.45 1011.73L301.16 1006.47L302.87 1001.17L304.58 995.86L306.30 990.53L308.01 985.19L309.72 979.84L311.43 974.50L313.14 969.17L314.86 963.87L316.57 958.60L318.28 953.40L319.99 948.27L321.70 943.24L323.42 938.31L325.13 933.53L326.84 928.90L328.55 924.45L330.26 920.19L331.98 916.16L333.69 912.37L335.40 908.84L337.11 905.59L338.82 902.62L340.54 899.97L342.25 897.63L343.96 895.61L345.67 893.94L347.38 892.60L349.10 891.60L350.81 890.95L352.52 890.64L354.23 890.68L355.94 891.05L357.66 891.76L359.37 892.80L361.08 894.17L362.79 895.86L364.50 897.87L366.22 900.18L367.93 902.79L369.64 905.70L371.35 908.89L373.06 912.35L374.78 916.09L376.49 920.08L378.20 924.32L379.91 928.79L381.62 933.49L383.34 938.38L385.05 943.47L386.76 948.73L388.47 954.13L390.18 959.66L391.90 965.29L393.61 971.00L395.32 976.75L397.03 982.52L398.74 988.28L400.46 993.98L402.17 999.61L403.88 1005.13L405.59 1010.51L407.30 1015.71L409.02 1020.70L410.73 1025.47L412.44 1029.97L414.15 1034.19L415.86 1038.10L417.58 1041.70L419.29 1044.96L421.00 1047.87L422.71 1050.44L424.42 1052.66L426.14 1054.53L427.85 1056.06L429.56 1057.26L431.27 1058.14L432.98 1058.73L434.70 1059.03L436.41 1059.07L438.12 1058.87L439.83 1058.46L441.54 1057.85L443.26 1057.08L444.97 1056.17L446.68 1055.13L448.39 1054.00L450.10 1052.77L451.82 1051.49L453.53 1050.15L455.24 1048.77L456.95 1047.35L458.66 1045.92L460.38 1044.46L462.09 1042.99L463.80 1041.50L465.51 1039.99L467.22 1038.46L468.94 1036.91L470.65 1035.34L472.36 1033.74L474.07 1032.12L475.78 1030.46L477.50 1028.78L479.21 1027.07L480.92 1025.34L482.63 1023.59L484.34 1021.83L486.06 1020.07L487.77 1018.31L489.48 1016.58L491.19 1014.87L492.90 1013.22L494.62 1011.62L496.33 1010.11L498.04 1008.68L499.75 1007.36L501.46 1006.16L503.18 1005.10L504.89 1004.18L506.60 1003.41L508.31 1002.80L510.02 1002.37L511.74 1002.10L513.45 1002.01L515.16 1002.10L516.87 1002.36L518.58 1002.79L520.30 1003.38L522.01 1004.13L523.72 1005.04L525.43 1006.09L527.14 1007.28L528.86 1008.60L530.57 1010.05L532.28 1011.62L533.99 1013.31L535.70 1015.11L537.42 1017.01L539.13 1019.03L540.84 1021.15L542.55 1023.38L544.26 1025.73L545.98 1028.18L547.69 1030.75L549.40 1033.44L551.11 1036.25L552.82 1039.18L554.54 1042.22L556.25 1045.39L557.96 1048.68L559.67 1052.07L561.38 1055.56L563.10 1059.15L564.81 1062.80L566.52 1066.52L568.23 1070.28L569.94 1074.05L571.66 1077.81L573.37 1081.54L575.08 1085.19L576.79 1088.74L578.50 1092.16L580.22 1095.40L581.93 1098.44L583.64 1101.23L585.35 1103.74L587.06 1105.95L588.78 1107.82L590.49 1109.32L592.20 1110.43L593.91 1111.14L595.62 1111.44L597.34 1111.31L599.05 1110.75L600.76 1109.77L602.47 1108.38L604.18 1106.59L605.90 1104.41L607.61 1101.88L609.32 1099.00L611.03 1095.82L612.74 1092.35L614.46 1088.63L616.17 1084.68L617.88 1080.53L619.59 1076.20L621.30 1071.72L623.02 1067.11L624.73 1062.38L626.44 1057.57L628.15 1052.67L629.86 1047.71L631.58 1042.69L633.29 1037.62L635.00 1032.51L636.71 1027.37L638.42 1022.18L640.14 1016.97L641.85 1011.73L643.56 1006.46L645.27 1001.16L646.98 995.84L648.70 990.50L650.41 985.15L652.12 979.80L653.83 974.44L655.54 969.09L657.26 963.77L658.97 958.49L660.68 953.25L662.39 948.09L664.10 943.01L665.82 938.04L667.53 933.20L669.24 928.51L670.95 923.98L672.66 919.66L674.38 915.54L676.09 911.66L677.80 908.04L679.51 904.69L681.22 901.63L682.94 898.87L684.65 896.44L686.36 894.34L688.07 892.58L689.78 891.16L691.50 890.11L693.21 889.41L694.92 889.06L696.63 889.08L698.34 889.45L700.06 890.18L701.77 891.25L703.48 892.67L705.19 894.42L706.90 896.49L708.62 898.88L710.33 901.58L712.04 904.58L713.75 907.87L715.46 911.43L717.18 915.27L718.89 919.35L720.60 923.68L722.31 928.24L724.02 933.01L725.74 937.98L727.45 943.13L729.16 948.44L730.87 953.90L732.58 959.47L734.30 965.14L736.01 970.87L737.72 976.65L739.43 982.44L741.14 988.22L742.86 993.94L744.57 999.58L746.28 1005.11L747.99 1010.49L749.70 1015.69L751.42 1020.69L753.13 1025.46L754.84 1029.96L756.55 1034.18L758.26 1038.10L759.98 1041.69L761.69 1044.96L763.40 1047.87L765.11 1050.44L766.82 1052.66L768.54 1054.53L770.25 1056.06L771.96 1057.26L773.67 1058.14L775.38 1058.73L777.10 1059.03L778.81 1059.07L780.52 1058.87L782.23 1058.46L783.94 1057.85L785.66 1057.08L787.37 1056.17L789.08 1055.13L790.79 1054.00L792.50 1052.77L794.22 1051.49L795.93 1050.15L797.64 1048.77L799.35 1047.35L801.06 1045.92L802.78 1044.46L804.49 1042.99L806.20 1041.50L807.91 1039.99L809.62 1038.46L811.34 1036.91L813.05 1035.34L814.76 1033.74L816.47 1032.12L818.18 1030.46L819.90 1028.78L821.61 1027.07L823.32 1025.34L825.03 1023.59L826.74 1021.83L828.46 1020.07L830.17 1018.31L831.88 1016.58L833.59 1014.87L835.30 1013.22L837.02 1011.62L838.73 1010.11L840.44 1008.68L842.15 1007.36L843.86 1006.16L845.58 1005.10L847.29 1004.18L849.00 1003.41L850.71 1002.80L852.42 1002.37L854.14 1002.10L855.85 1002.01L857.56 1002.10L859.27 1002.36L860.98 1002.79L862.70 1003.38L864.41 1004.13L866.12 1005.04L867.83 1006.09L869.54 1007.28L871.26 1008.60L872.97 1010.05L874.68 1011.62L876.39 1013.31L878.10 1015.11L879.82 1017.01L881.53 1019.03L883.24 1021.15L884.95 1023.38L886.66 1025.73L888.38 1028.18L890.09 1030.75L891.80 1033.44L893.51 1036.25L895.22 1039.18L896.94 1042.22L898.65 1045.39L900.36 1048.68L902.07 1052.07L903.78 1055.56L905.50 1059.15L907.21 1062.80L908.92 1066.52L910.63 1070.28L912.34 1074.05L914.06 1077.81L915.77 1081.54L917.48 1085.19L919.19 1088.74L920.90 1092.16L922.62 1095.40L924.33 1098.44L926.04 1101.23L927.75 1103.74L929.46 1105.95L931.18 1107.82L932.89 1109.32L934.60 1110.43L936.31 1111.14L938.02 1111.44L939.74 1111.31L941.45 1110.75L943.16 1109.77L944.87 1108.38L946.58 1106.59L948.30 1104.41L950.01 1101.88L951.72 1099.00L953.43 1095.82L955.14 1092.35L956.86 1088.63L958.57 1084.68L960.28 1080.53L961.99 1076.20L963.70 1071.72L965.42 1067.11L967.13 1062.38L968.84 1057.57L970.55 1052.67L972.26 1047.71L973.98 1042.69L975.69 1037.62L977.40 1032.51L979.11 1027.36L980.82 1022.18L982.54 1016.97L984.25 1011.72L985.96 1006.45L987.67 1001.15L989.38 995.83L991.10 990.49L992.81 985.13L994.52 979.77L996.23 974.40L997.94 969.05L999.66 963.71L1001.37 958.41L1003.08 953.15L1004.79 947.97L1006.50 942.86L1008.22 937.86L1009.93 932.98L1011.64 928.25L1013.35 923.68L1015.06 919.30L1016.78 915.13L1018.49 911.19L1020.20 907.50L1021.91 904.09L1023.62 900.96L1025.34 898.14L1027.05 895.65L1028.76 893.48L1030.47 891.67L1032.18 890.21L1033.90 889.11L1035.61 888.38L1037.32 888.01L1039.03 888.02L1040.74 888.39L1042.46 889.13L1044.17 890.22L1045.88 891.66L1047.59 893.45L1049.30 895.57L1051.02 898.02L1052.73 900.78L1054.44 903.84L1056.15 907.19L1057.86 910.82L1059.58 914.72L1061.29 918.87L1063.00 923.25L1064.71 927.87L1066.42 932.69L1068.14 937.71L1069.85 942.90L1071.56 948.25L1073.27 953.74L1074.98 959.34L1076.70 965.04L1078.41 970.79L1080.12 976.59L1081.83 982.39L1083.54 988.18L1085.26 993.91L1086.97 999.56L1088.68 1005.09L1090.39 1010.48L1092.10 1015.69L1093.82 1020.69L1095.53 1025.45L1097.24 1029.96L1098.95 1034.18L1100.66 1038.10L1102.38 1041.69L1104.09 1044.95L1105.80 1047.87L1107.51 1050.44L1109.22 1052.66L1110.94 1054.53L1112.65 1056.06L1114.36 1057.26L1116.07 1058.14L1117.78 1058.73L1119.50 1059.03L1121.21 1059.07L1122.92 1058.87L1124.63 1058.46L1126.34 1057.85L1128.06 1057.08L1129.77 1056.17L1131.48 1055.13L1133.19 1054.00L1134.90 1052.77L1136.62 1051.49L1138.33 1050.15L1140.04 1048.77L1141.75 1047.35L1143.46 1045.92L1145.18 1044.46L1146.89 1042.99L1148.60 1041.50L1150.31 1039.99L1152.02 1038.46L1153.74 1036.91L1155.45 1035.34L1157.16 1033.74L1158.87 1032.12L1160.58 1030.46L1162.30 1028.78L1164.01 1027.07L1165.72 1025.34L1167.43 1023.59L1169.14 1021.83L1170.86 1020.07L1172.57 1018.31L1174.28 1016.58L1175.99 1014.87L1177.70 1013.22L1179.42 1011.62L1181.13 1010.11L1182.84 1008.68L1184.55 1007.36L1186.26 1006.16L1187.98 1005.10L1189.69 1004.18L1191.40 1003.41L1193.11 1002.80L1194.82 1002.37L1196.54 1002.10L1198.25 1002.01L1199.96 1002.10L1201.67 1002.36L1203.38 1002.79L1205.10 1003.38L1206.81 1004.13L1208.52 1005.04L1210.23 1006.09L1211.94 1007.28L1213.66 1008.60L1215.37 1010.05L1217.08 1011.62L1218.79 1013.31L1220.50 1015.11L1222.22 1017.01L1223.93 1019.03L1225.64 1021.15L1227.35 1023.38L1229.06 1025.73L1230.78 1028.18L1232.49 1030.75L1234.20 1033.44L1235.91 1036.25L1237.62 1039.18L1239.34 1042.22L1241.05 1045.39L1242.76 1048.68L1244.47 1052.07L1246.18 1055.56L1247.90 1059.15L1249.61 1062.80L1251.32 1066.52L1253.03 1070.28L1254.74 1074.05L1256.46 1077.81L1258.17 1081.54L1259.88 1085.19L1261.59 1088.74L1263.30 1092.16L1265.02 1095.40L1266.73 1098.44L1268.44 1101.23L1270.15 1103.74L1271.86 1105.95L1273.58 1107.82L1275.29 1109.32L1277.00 1110.43L1278.71 1111.14L1280.42 1111.44L1282.14 1111.31L1283.85 1110.75L1285.56 1109.77L1287.27 1108.38L1288.98 1106.59L1290.70 1104.41L1292.41 1101.88L1294.12 1099.00L1295.83 1095.82L1297.54 1092.35L1299.26 1088.63L1300.97 1084.68L1302.68 1080.53L1304.39 1076.20L1306.10 1071.72L1307.82 1067.11L1309.53 1062.38L1311.24 1057.57L1312.95 1052.67L1314.66 1047.71L1316.38 1042.69L1318.09 1037.62L1319.80 1032.51L1321.51 1027.36L1323.22 1022.18L1324.94 1016.96L1326.65 1011.71L1328.36 1006.44L1330.07 1001.14L1331.78 995.81L1333.50 990.46L1335.21 985.10L1336.92 979.72L1338.63 974.35L1340.34 968.97L1342.06 963.62L1343.77 958.29L1345.48 953.01L1347.19 947.78L1348.90 942.64L1350.62 937.59L1352.33 932.65L1354.04 927.85L1355.75 923.22L1357.46 918.76L1359.18 914.51L1360.89 910.48L1362.60 906.70L1364.31 903.19L1366.02 899.96L1367.74 897.05L1369.45 894.46L1371.16 892.21L1372.87 890.31L1374.58 888.78L1376.30 887.62L1378.01 886.84L1379.72 886.44L1381.43 886.43L1383.14 886.80L1384.86 887.55L1386.57 888.67L1388.28 890.16L1389.99 892.01L1391.70 894.20L1393.42 896.72L1395.13 899.57L1396.84 902.73L1398.55 906.17L1400.26 909.90L1401.98 913.89L1403.69 918.14L1405.40 922.62L1407.11 927.31L1408.82 932.22L1410.54 937.30L1412.25 942.56L1413.96 947.97L1415.67 953.51L1417.38 959.15L1419.10 964.88L1420.81 970.67L1422.52 976.49L1424.23 982.32L1425.94 988.12L1427.66 993.86L1429.37 999.52L1431.08 1005.06L1432.79 1010.46L1434.50 1015.67L1436.22 1020.68L1437.93 1025.45L1439.64 1029.95L1441.35 1034.18L1443.06 1038.09L1444.78 1041.69L1446.49 1044.95L1448.20 1047.87L1449.91 1050.44L1451.62 1052.66L1453.34 1054.53L1455.05 1056.06L1456.76 1057.26L1458.47 1058.14L1460.18 1058.73L1461.90 1059.03L1463.61 1059.07L1465.32 1058.87L1467.03 1058.46L1468.74 1057.85L1470.46 1057.08L1472.17 1056.17L1473.88 1055.13L1475.59 1054.00L1477.30 1052.77L1479.02 1051.49L1480.73 1050.15L1482.44 1048.77L1484.15 1047.35L1485.86 1045.92L1487.58 1044.46L1489.29 1042.99L1491.00 1041.50L1492.71 1039.99L1494.42 1038.46L1496.14 1036.91L1497.85 1035.34L1499.56 1033.74L1501.27 1032.12L1502.98 1030.46L1504.70 1028.78L1506.41 1027.07L1508.12 1025.34L1509.83 1023.59L1511.54 1021.83L1513.26 1020.07L1514.97 1018.31L1516.68 1016.58L1518.39 1014.87L1520.10 1013.22L1521.82 1011.62L1523.53 1010.11L1525.24 1008.68L1526.95 1007.36L1528.66 1006.16L1530.38 1005.10L1532.09 1004.18L1533.80 1003.41L1535.51 1002.80L1537.22 1002.37L1538.94 1002.10L1540.65 1002.01L1542.36 1002.10L1544.07 1002.36L1545.78 1002.79L1547.50 1003.38L1549.21 1004.13L1550.92 1005.04L1552.63 1006.09L1554.34 1007.28L1556.06 1008.60L1557.77 1010.05L1559.48 1011.62L1561.19 1013.31L1562.90 1015.11L1564.62 1017.01L1566.33 1019.03L1568.04 1021.15L1569.75 1023.38L1571.46 1025.73L1573.18 1028.18L1574.89 1030.75L1576.60 1033.44L1578.31 1036.25L1580.02 1039.18L1581.74 1042.22L1583.45 1045.39L1585.16 1048.68L1586.87 1052.07L1588.58 1055.56L1590.30 1059.15L1592.01 1062.80L1593.72 1066.52L1595.43 1070.28L1597.14 1074.05L1598.86 1077.81L1600.57 1081.54L1602.28 1085.19L1603.99 1088.74L1605.70 1092.16L1607.42 1095.40L1609.13 1098.44L1610.84 1101.23L1612.55 1103.74L1614.26 1105.95L1615.98 1107.82L1617.69 1109.32L1619.40 1110.43L1621.11 1111.14L1622.82 1111.44L1624.54 1111.31L1626.25 1110.75L1627.96 1109.77L1629.67 1108.38L1631.38 1106.59L1633.10 1104.41L1634.81 1101.88L1636.52 1099.00L1638.23 1095.82L1639.94 1092.35L1641.66 1088.63L1643.37 1084.68L1645.08 1080.53L1646.79 1076.20L1648.50 1071.72L1650.22 1067.11L1651.93 1062.38L1653.64 1057.57L1655.35 1052.67L1657.06 1047.71L1658.78 1042.69L1660.49 1037.62L1662.20 1032.51L1663.91 1027.36L1665.62 1022.18L1667.34 1016.96L1669.05 1011.71L1670.76 1006.44L1672.47 1001.13L1674.18 995.80L1675.90 990.45L1677.61 985.09L1679.32 979.71L1681.03 974.33L1682.74 968.95L1684.46 963.59L1686.17 958.25L1687.88 952.96L1689.59 947.72L1691.30 942.56L1693.02 937.49L1694.73 932.54L1696.44 927.72L1698.15 923.06L1699.86 918.58L1701.58 914.30L1703.29 910.24L1705.00 906.43L1706.71 902.89L1708.42 899.63L1710.14 896.68L1711.85 894.06L1713.56 891.78L1715.27 889.85L1716.98 888.30L1718.70 887.12L1720.41 886.32L1722.12 885.91L1723.83 885.89L1725.54 886.26L1727.26 887.02L1728.97 888.15L1730.68 889.66L1732.39 891.52L1734.10 893.74L1735.82 896.29L1737.53 899.17L1739.24 902.35L1740.95 905.83L1742.66 909.59L1744.38 913.62L1746.09 917.89L1747.80 922.40L1749.51 927.13L1751.22 932.06L1752.94 937.17L1754.65 942.45L1756.36 947.87L1758.07 953.43L1759.78 959.09L1761.50 964.83L1763.21 970.63L1764.92 976.46L1766.63 982.29L1768.34 988.10L1770.06 993.85L1771.77 999.51L1773.48 1005.05L1775.19 1010.45L1776.90 1015.67L1778.62 1020.67L1780.33 1025.44L1782.04 1029.95L1783.75 1034.18L1785.46 1038.09L1787.18 1041.69L1788.89 1044.95L1790.60 1047.87L1792.31 1050.44L1794.02 1052.66L1795.74 1054.53L1797.45 1056.06L1799.16 1057.26L1800.87 1058.14L1802.58 1058.73L1804.30 1059.03L1806.01 1059.07L1807.72 1058.87L1809.43 1058.46L1811.14 1057.85L1812.86 1057.08L1814.57 1056.17L1816.28 1055.13L1817.99 1054.00L1819.70 1052.77L1821.42 1051.49L1823.13 1050.15L1824.84 1048.77L1826.55 1047.35L1828.26 1045.92L1829.98 1044.46L1831.69 1042.99L1833.40 1041.50L1835.11 1039.99L1836.82 1038.46L1838.54 1036.91L1840.25 1035.34L1841.96 1033.74L1843.67 1032.12L1845.38 1030.46L1847.10 1028.78L1848.81 1027.07L1850.52 1025.34L1852.23 1023.59L1853.94 1021.83L1855.66 1020.07L1857.37 1018.31L1859.08 1016.58L1860.79 1014.87L1862.50 1013.22L1864.22 1011.62L1865.93 1010.11L1867.64 1008.68L1869.35 1007.36L1871.06 1006.16L1872.78 1005.10L1874.49 1004.18L1876.20 1003.41L1877.91 1002.80L1879.62 1002.37L1881.34 1002.10L1883.05 1002.01L1884.76 1002.10L1886.47 1002.36L1888.18 1002.79L1889.90 1003.38L1891.61 1004.13L1893.32 1005.04L1895.03 1006.09L1896.74 1007.28L1898.46 1008.60L1900.17 1010.05L1901.88 1011.62L1903.59 1013.31L1905.30 1015.11L1907.02 1017.01L1908.73 1019.03L1910.44 1021.15L1912.15 1023.38L1913.86 1025.73L1915.58 1028.18L1917.29 1030.75L1919.00 1033.44" stroke="#0000ff" stroke-width="8.40" fill="none" stroke-linejoin="round"/>
<path d="M207.00 1010.71L208.71 1013.02L210.42 1015.45L212.14 1017.99L213.85 1020.63L215.56 1023.38L217.27 1026.23L218.98 1029.16L220.70 1032.17L222.41 1035.24L224.12 1038.36L225.83 1041.50L227.54 1044.65L229.26 1047.79L230.97 1050.90L232.68 1053.94L234.39 1056.89L236.10 1059.74L237.82 1062.44L239.53 1064.99L241.24 1067.35L242.95 1069.51L244.66 1071.43L246.38 1073.11L248.09 1074.53L249.80 1075.67L251.51 1076.53L253.22 1077.09L254.94 1077.35L256.65 1077.30L258.36 1076.96L260.07 1076.32L261.78 1075.39L263.50 1074.17L265.21 1072.68L266.92 1070.93L268.63 1068.93L270.34 1066.70L272.06 1064.25L273.77 1061.60L275.48 1058.76L277.19 1055.75L278.90 1052.58L280.62 1049.26L282.33 1045.81L284.04 1042.23L285.75 1038.55L287.46 1034.76L289.18 1030.87L290.89 1026.89L292.60 1022.83L294.31 1018.68L296.02 1014.46L297.74 1010.17L299.45 1005.80L301.16 1001.37L302.87 996.88L304.58 992.33L306.30 987.72L308.01 983.06L309.72 978.37L311.43 973.64L313.14 968.88L314.86 964.12L316.57 959.36L318.28 954.61L319.99 949.89L321.70 945.21L323.42 940.60L325.13 936.07L326.84 931.64L328.55 927.33L330.26 923.16L331.98 919.15L333.69 915.32L335.40 911.69L337.11 908.28L338.82 905.10L340.54 902.17L342.25 899.50L343.96 897.10L345.67 894.99L347.38 893.16L349.10 891.62L350.81 890.38L352.52 889.44L354.23 888.79L355.94 888.45L357.66 888.40L359.37 888.65L361.08 889.20L362.79 890.05L364.50 891.21L366.22 892.66L367.93 894.42L369.64 896.49L371.35 898.85L373.06 901.50L374.78 904.44L376.49 907.65L378.20 911.13L379.91 914.85L381.62 918.80L383.34 922.96L385.05 927.31L386.76 931.82L388.47 936.48L390.18 941.24L391.90 946.10L393.61 951.01L395.32 955.95L397.03 960.89L398.74 965.81L400.46 970.67L402.17 975.45L403.88 980.13L405.59 984.67L407.30 989.06L409.02 993.26L410.73 997.28L412.44 1001.08L414.15 1004.65L415.86 1007.98L417.58 1011.06L419.29 1013.89L421.00 1016.47L422.71 1018.78L424.42 1020.85L426.14 1022.66L427.85 1024.22L429.56 1025.56L431.27 1026.67L432.98 1027.57L434.70 1028.27L436.41 1028.79L438.12 1029.14L439.83 1029.34L441.54 1029.39L443.26 1029.31L444.97 1029.12L446.68 1028.82L448.39 1028.43L450.10 1027.95L451.82 1027.40L453.53 1026.76L455.24 1026.06L456.95 1025.30L458.66 1024.47L460.38 1023.57L462.09 1022.62L463.80 1021.60L465.51 1020.52L467.22 1019.38L468.94 1018.17L470.65 1016.90L472.36 1015.58L474.07 1014.20L475.78 1012.76L477.50 1011.28L479.21 1009.75L480.92 1008.20L482.63 1006.61L484.34 1005.01L486.06 1003.41L487.77 1001.82L489.48 1000.24L491.19 998.70L492.90 997.21L494.62 995.78L496.33 994.42L498.04 993.15L499.75 991.97L501.46 990.90L503.18 989.94L504.89 989.11L506.60 988.41L508.31 987.84L510.02 987.40L511.74 987.11L513.45 986.95L515.16 986.93L516.87 987.05L518.58 987.29L520.30 987.67L522.01 988.17L523.72 988.79L525.43 989.52L527.14 990.37L528.86 991.32L530.57 992.37L532.28 993.53L533.99 994.79L535.70 996.14L537.42 997.60L539.13 999.15L540.84 1000.81L542.55 1002.57L544.26 1004.44L545.98 1006.42L547.69 1008.51L549.40 1010.71L551.11 1013.02L552.82 1015.45L554.54 1017.99L556.25 1020.63L557.96 1023.38L559.67 1026.23L561.38 1029.16L563.10 1032.17L564.81 1035.24L566.52 1038.36L568.23 1041.50L569.94 1044.65L571.66 1047.79L573.37 1050.90L575.08 1053.94L576.79 1056.89L578.50 1059.74L580.22 1062.44L581.93 1064.99L583.64 1067.35L585.35 1069.51L587.06 1071.43L588.78 1073.11L590.49 1074.53L592.20 1075.67L593.91 1076.53L595.62 1077.09L597.34 1077.35L599.05 1077.30L600.76 1076.96L602.47 1076.32L604.18 1075.39L605.90 1074.17L607.61 1072.68L609.32 1070.93L611.03 1068.93L612.74 1066.70L614.46 1064.25L616.17 1061.60L617.88 1058.76L619.59 1055.75L621.30 1052.58L623.02 1049.26L624.73 1045.81L626.44 1042.23L628.15 1038.55L629.86 1034.76L631.58 1030.87L633.29 1026.89L635.00 1022.83L636.71 1018.68L638.42 1014.46L640.14 1010.17L641.85 1005.80L643.56 1001.37L645.27 996.88L646.98 992.33L648.70 987.72L650.41 983.06L652.12 978.37L653.83 973.64L655.54 968.88L657.26 964.12L658.97 959.36L660.68 954.61L662.39 949.89L664.10 945.21L665.82 940.60L667.53 936.07L669.24 931.64L670.95 927.33L672.66 923.16L674.38 919.15L676.09 915.32L677.80 911.69L679.51 908.28L681.22 905.10L682.94 902.17L684.65 899.50L686.36 897.10L688.07 894.99L689.78 893.16L691.50 891.62L693.21 890.38L694.92 889.44L696.63 888.79L698.34 888.45L700.06 888.40L701.77 888.65L703.48 889.20L705.19 890.05L706.90 891.21L708.62 892.66L710.33 894.42L712.04 896.49L713.75 898.85L715.46 901.50L717.18 904.44L718.89 907.65L720.60 911.13L722.31 914.85L724.02 918.80L725.74 922.96L727.45 927.31L729.16 931.82L730.87 936.48L732.58 941.24L734.30 946.10L736.01 951.01L737.72 955.95L739.43 960.89L741.14 965.81L742.86 970.67L744.57 975.45L746.28 980.13L747.99 984.67L749.70 989.06L751.42 993.26L753.13 997.28L754.84 1001.08L756.55 1004.65L758.26 1007.98L759.98 1011.06L761.69 1013.89L763.40 1016.47L765.11 1018.78L766.82 1020.85L768.54 1022.66L770.25 1024.22L771.96 1025.56L773.67 1026.67L775.38 1027.57L777.10 1028.27L778.81 1028.79L780.52 1029.14L782.23 1029.34L783.94 1029.39L785.66 1029.31L787.37 1029.12L789.08 1028.82L790.79 1028.43L792.50 1027.95L794.22 1027.40L795.93 1026.76L797.64 1026.06L799.35 1025.30L801.06 1024.47L802.78 1023.57L804.49 1022.62L806.20 1021.60L807.91 1020.52L809.62 1019.38L811.34 1018.17L813.05 1016.90L814.76 1015.58L816.47 1014.20L818.18 1012.76L819.90 1011.28L821.61 1009.75L823.32 1008.20L825.03 1006.61L826.74 1005.01L828.46 1003.41L830.17 1001.82L831.88 1000.24L833.59 998.70L835.30 997.21L837.02 995.78L838.73 994.42L840.44 993.15L842.15 991.97L843.86 990.90L845.58 989.94L847.29 989.11L849.00 988.41L850.71 987.84L852.42 987.40L854.14 987.11L855.85 986.95L857.56 986.93L859.27 987.05L860.98 987.29L862.70 987.67L864.41 988.17L866.12 988.79L867.83 989.52L869.54 990.37L871.26 991.32L872.97 992.37L874.68 993.53L876.39 994.79L878.10 996.14L879.82 997.60L881.53 999.15L883.24 1000.81L884.95 1002.57L886.66 1004.44L888.38 1006.42L890.09 1008.51L891.80 1010.71L893.51 1013.02L895.22 1015.45L896.94 1017.99L898.65 1020.63L900.36 1023.38L902.07 1026.23L903.78 1029.16L905.50 1032.17L907.21 1035.24L908.92 1038.36L910.63 1041.50L912.34 1044.65L914.06 1047.79L915.77 1050.90L917.48 1053.94L919.19 1056.89L920.90 1059.74L922.62 1062.44L924.33 1064.99L926.04 1067.35L927.75 1069.51L929.46 1071.43L931.18 1073.11L932.89 1074.53L934.60 1075.67L936.31 1076.53L938.02 1077.09L939.74 1077.35L941.45 1077.30L943.16 1076.96L944.87 1076.32L946.58 1075.39L948.30 1074.17L950.01 1072.68L951.72 1070.93L953.43 1068.93L955.14 1066.70L956.86 1064.25L958.57 1061.60L960.28 1058.76L961.99 1055.75L963.70 1052.58L965.42 1049.26L967.13 1045.81L968.84 1042.23L970.55 1038.55L972.26 1034.76L973.98 1030.87L975.69 1026.89L977.40 1022.83L979.11 1018.68L980.82 1014.46L982.54 1010.17L984.25 1005.80L985.96 1001.37L987.67 996.88L989.38 992.33L991.10 987.72L992.81 983.06L994.52 978.37L996.23 973.64L997.94 968.88L999.66 964.12L1001.37 959.36L1003.08 954.61L1004.79 949.89L1006.50 945.21L1008.22 940.60L1009.93 936.07L1011.64 931.64L1013.35 927.33L1015.06 923.16L1016.78 919.15L1018.49 915.32L1020.20 911.69L1021.91 908.28L1023.62 905.10L1025.34 902.17L1027.05 899.50L1028.76 897.10L1030.47 894.99L1032.18 893.16L1033.90 891.62L1035.61 890.38L1037.32 889.44L1039.03 888.79L1040.74 888.45L1042.46 888.40L1044.17 888.65L1045.88 889.20L1047.59 890.05L1049.30 891.21L1051.02 892.66L1052.73 894.42L1054.44 896.49L1056.15 898.85L1057.86 901.50L1059.58 904.44L1061.29 907.65L1063.00 911.13L1064.71 914.85L1066.42 918.80L1068.14 922.96L1069.85 927.31L1071.56 931.82L1073.27 936.48L1074.98 941.24L1076.70 946.10L1078.41 951.01L1080.12 955.95L1081.83 960.89L1083.54 965.81L1085.26 970.67L1086.97 975.45L1088.68 980.13L1090.39 984.67L1092.10 989.06L1093.82 993.26L1095.53 997.28L1097.24 1001.08L1098.95 1004.65L1100.66 1007.98L1102.38 1011.06L1104.09 1013.89L1105.80 1016.47L1107.51 1018.78L1109.22 1020.85L1110.94 1022.66L1112.65 1024.22L1114.36 1025.56L1116.07 1026.67L1117.78 1027.57L1119.50 1028.27L1121.21 1028.79L1122.92 1029.14L1124.63 1029.34L1126.34 1029.39L1128.06 1029.31L1129.77 1029.12L1131.48 1028.82L1133.19 1028.43L1134.90 1027.95L1136.62 1027.40L1138.33 1026.76L1140.04 1026.06L1141.75 1025.30L1143.46 1024.47L1145.18 1023.57L1146.89 1022.62L1148.60 1021.60L1150.31 1020.52L1152.02 1019.38L1153.74 1018.17L1155.45 1016.90L1157.16 1015.58L1158.87 1014.20L1160.58 1012.76L1162.30 1011.28L1164.01 1009.75L1165.72 1008.20L1167.43 1006.61L1169.14 1005.01L1170.86 1003.41L1172.57 1001.82L1174.28 1000.24L1175.99 998.70L1177.70 997.21L1179.42 995.78L1181.13 994.42L1182.84 993.15L1184.55 991.97L1186.26 990.90L1187.98 989.94L1189.69 989.11L1191.40 988.41L1193.11 987.84L1194.82 987.40L1196.54 987.11L1198.25 986.95L1199.96 986.93L1201.67 987.05L1203.38 987.29L1205.10 987.67L1206.81 988.17L1208.52 988.79L1210.23 989.52L1211.94 990.37L1213.66 991.32L1215.37 992.37L1217.08 993.53L1218.79 994.79L1220.50 996.14L1222.22 997.60L1223.93 999.15L1225.64 1000.81L1227.35 1002.57L1229.06 1004.44L1230.78 1006.42L1232.49 1008.51L1234.20 1010.71L1235.91 1013.02L1237.62 1015.45L1239.34 1017.99L1241.05 1020.63L1242.76 1023.38L1244.47 1026.23L1246.18 1029.16L1247.90 1032.17L1249.61 1035.24L1251.32 1038.36L1253.03 1041.50L1254.74 1044.65L1256.46 1047.79L1258.17 1050.90L1259.88 1053.94L1261.59 1056.89L1263.30 1059.74L1265.02 1062.44L1266.73 1064.99L1268.44 1067.35L1270.15 1069.51L1271.86 1071.43L1273.58 1073.11L1275.29 1074.53L1277.00 1075.67L1278.71 1076.53L1280.42 1077.09L1282.14 1077.35L1283.85 1077.30L1285.56 1076.96L1287.27 1076.32L1288.98 1075.39L1290.70 1074.17L1292.41 1072.68L1294.12 1070.93L1295.83 1068.93L1297.54 1066.70L1299.26 1064.25L1300.97 1061.60L1302.68 1058.76L1304.39 1055.75L1306.10 1052.58L1307.82 1049.26L1309.53 1045.81L1311.24 1042.23L1312.95 1038.55L1314.66 1034.76L1316.38 1030.87L1318.09 1026.89L1319.80 1022.83L1321.51 1018.68L1323.22 1014.46L1324.94 1010.17L1326.65 1005.80L1328.36 1001.37L1330.07 996.88L1331.78 992.33L1333.50 987.72L1335.21 983.06L1336.92 978.37L1338.63 973.64L1340.34 968.88L1342.06 964.12L1343.77 959.36L1345.48 954.61L1347.19 949.89L1348.90 945.21L1350.62 940.60L1352.33 936.07L1354.04 931.64L1355.75 927.33L1357.46 923.16L1359.18 919.15L1360.89 915.32L1362.60 911.69L1364.31 908.28L1366.02 905.10L1367.74 902.17L1369.45 899.50L1371.16 897.10L1372.87 894.99L1374.58 893.16L1376.30 891.62L1378.01 890.38L1379.72 889.44L1381.43 888.79L1383.14 888.45L1384.86 888.40L1386.57 888.65L1388.28 889.20L1389.99 890.05L1391.70 891.21L1393.42 892.66L1395.13 894.42L1396.84 896.49L1398.55 898.85L1400.26 901.50L1401.98 904.44L1403.69 907.65L1405.40 911.13L1407.11 914.85L1408.82 918.80L1410.54 922.96L1412.25 927.31L1413.96 931.82L1415.67 936.48L1417.38 941.24L1419.10 946.10L1420.81 951.01L1422.52 955.95L1424.23 960.89L1425.94 965.81L1427.66 970.67L1429.37 975.45L1431.08 980.13L1432.79 984.67L1434.50 989.06L1436.22 993.26L1437.93 997.28L1439.64 1001.08L1441.35 1004.65L1443.06 1007.98L1444.78 1011.06L1446.49 1013.89L1448.20 1016.47L1449.91 1018.78L1451.62 1020.85L1453.34 1022.66L1455.05 1024.22L1456.76 1025.56L1458.47 1026.67L1460.18 1027.57L1461.90 1028.27L1463.61 1028.79L1465.32 1029.14L1467.03 1029.34L1468.74 1029.39L1470.46 1029.31L1472.17 1029.12L1473.88 1028.82L1475.59 1028.43L1477.30 1027.95L1479.02 1027.40L1480.73 1026.76L1482.44 1026.06L1484.15 1025.30L1485.86 1024.47L1487.58 1023.57L1489.29 1022.62L1491.00 1021.60L1492.71 1020.52L1494.42 1019.38L1496.14 1018.17L1497.85 1016.90L1499.56 1015.58L1501.27 1014.20L1502.98 1012.76L1504.70 1011.28L1506.41 1009.75L1508.12 1008.20L1509.83 1006.61L1511.54 1005.01L1513.26 1003.41L1514.97 1001.82L1516.68 1000.24L1518.39 998.70L1520.10 997.21L1521.82 995.78L1523.53 994.42L1525.24 993.15L1526.95 991.97L1528.66 990.90L1530.38 989.94L1532.09 989.11L1533.80 988.41L1535.51 987.84L1537.22 987.40L1538.94 987.11L1540.65 986.95L1542.36 986.93L1544.07 987.05L1545.78 987.29L1547.50 987.67L1549.21 988.17L1550.92 988.79L1552.63 989.52L1554.34 990.37L1556.06 991.32L1557.77 992.37L1559.48 993.53L1561.19 994.79L1562.90 996.14L1564.62 997.60L1566.33 999.15L1568.04 1000.81L1569.75 1002.57L1571.46 1004.44L1573.18 1006.42L1574.89 1008.51L1576.60 1010.71L1578.31 1013.02L1580.02 1015.45L1581.74 1017.99L1583.45 1020.63L1585.16 1023.38L1586.87 1026.23L1588.58 1029.16L1590.30 1032.17L1592.01 1035.24L1593.72 1038.36L1595.43 1041.50L1597.14 1044.65L1598.86 1047.79L1600.57 1050.90L1602.28 1053.94L1603.99 1056.89L1605.70 1059.74L1607.42 1062.44L1609.13 1064.99L1610.84 1067.35L1612.55 1069.51L1614.26 1071.43L1615.98 1073.11L1617.69 1074.53L1619.40 1075.67L1621.11 1076.53L1622.82 1077.09L1624.54 1077.35L1626.25 1077.30L1627.96 1076.96L1629.67 1076.32L1631.38 1075.39L1633.10 1074.17L1634.81 1072.68L1636.52 1070.93L1638.23 1068.93L1639.94 1066.70L1641.66 1064.25L1643.37 1061.60L1645.08 1058.76L1646.79 1055.75L1648.50 1052.58L1650.22 1049.26L1651.93 1045.81L1653.64 1042.23L1655.35 1038.55L1657.06 1034.76L1658.78 1030.87L1660.49 1026.89L1662.20 1022.83L1663.91 1018.68L1665.62 1014.46L1667.34 1010.17L1669.05 1005.80L1670.76 1001.37L1672.47 996.88L1674.18 992.33L1675.90 987.72L1677.61 983.06L1679.32 978.37L1681.03 973.64L1682.74 968.88L1684.46 964.12L1686.17 959.36L1687.88 954.61L1689.59 949.89L1691.30 945.21L1693.02 940.60L1694.73 936.07L1696.44 931.64L1698.15 927.33L1699.86 923.16L1701.58 919.15L1703.29 915.32L1705.00 911.69L1706.71 908.28L1708.42 905.10L1710.14 902.17L1711.85 899.50L1713.56 897.10L1715.27 894.99L1716.98 893.16L1718.70 891.62L1720.41 890.38L1722.12 889.44L1723.83 888.79L1725.54 888.45L1727.26 888.40L1728.97 888.65L1730.68 889.20L1732.39 890.05L1734.10 891.21L1735.82 892.66L1737.53 894.42L1739.24 896.49L1740.95 898.85L1742.66 901.50L1744.38 904.44L1746.09 907.65L1747.80 911.13L1749.51 914.85L1751.22 918.80L1752.94 922.96L1754.65 927.31L1756.36 931.82L1758.07 936.48L1759.78 941.24L1761.50 946.10L1763.21 951.01L1764.92 955.95L1766.63 960.89L1768.34 965.81L1770.06 970.67L1771.77 975.45L1773.48 980.13L1775.19 984.67L1776.90 989.06L1778.62 993.26L1780.33 997.28L1782.04 1001.08L1783.75 1004.65L1785.46 1007.98L1787.18 1011.06L1788.89 1013.89L1790.60 1016.47L1792.31 1018.78L1794.02 1020.85L1795.74 1022.66L1797.45 1024.22L1799.16 1025.56L1800.87 1026.67L1802.58 1027.57L1804.30 1028.27L1806.01 1028.79L1807.72 1029.14L1809.43 1029.34L1811.14 1029.39L1812.86 1029.31L1814.57 1029.12L1816.28 1028.82L1817.99 1028.43L1819.70 1027.95L1821.42 1027.40L1823.13 1026.76L1824.84 1026.06L1826.55 1025.30L1828.26 1024.47L1829.98 1023.57L1831.69 1022.62L1833.40 1021.60L1835.11 1020.52L1836.82 1019.38L1838.54 1018.17L1840.25 1016.90L1841.96 1015.58L1843.67 1014.20L1845.38 1012.76L1847.10 1011.28L1848.81 1009.75L1850.52 1008.20L1852.23 1006.61L1853.94 1005.01L1855.66 1003.41L1857.37 1001.82L1859.08 1000.24L1860.79 998.70L1862.50 997.21L1864.22 995.78L1865.93 994.42L1867.64 993.15L1869.35 991.97L1871.06 990.90L1872.78 989.94L1874.49 989.11L1876.20 988.41L1877.91 987.84L1879.62 987.40L1881.34 987.11L1883.05 986.95L1884.76 986.93L1886.47 987.05L1888.18 987.29L1889.90 987.67L1891.61 988.17L1893.32 988.79L1895.03 989.52L1896.74 990.37L1898.46 991.32L1900.17 992.37L1901.88 993.53L1903.59 994.79L1905.30 996.14L1907.02 997.60L1908.73 999.15L1910.44 1000.81L1912.15 1002.57L1913.86 1004.44L1915.58 1006.42L1917.29 1008.51L1919.00 1010.71" stroke="#ff0000" stroke-width="8.40" fill="none" stroke-dasharray="30.3 29.33" stroke-linejoin="round"/>
<g class="tk" font-family="Liberation Serif, serif" font-size="48.4" fill="#262626" stroke="#262626">
<text x="206.10" y="1371.75" text-anchor="middle">0</text>
<text x="376.60" y="1371.75" text-anchor="middle">0.5</text>
<text x="548.50" y="1371.75" text-anchor="middle">1</text>
<text x="719.00" y="1371.75" text-anchor="middle">1.5</text>
<text x="890.90" y="1371.75" text-anchor="middle">2</text>
<text x="1061.40" y="1371.75" text-anchor="middle">2.5</text>
<text x="1233.30" y="1371.75" text-anchor="middle">3</text>
<text x="1403.80" y="1371.75" text-anchor="middle">3.5</text>
<text x="1575.70" y="1371.75" text-anchor="middle">4</text>
<text x="1746.20" y="1371.75" text-anchor="middle">4.5</text>
<text x="1918.10" y="1371.75" text-anchor="middle">5</text>
<text x="186.20" y="791.70" text-anchor="end">1200</text>
<text x="186.20" y="898.14" text-anchor="end">1000</text>
<text x="186.20" y="1004.58" text-anchor="end">800</text>
<text x="186.20" y="1111.02" text-anchor="end">600</text>
<text x="186.20" y="1217.46" text-anchor="end">400</text>
<text x="186.20" y="1323.90" text-anchor="end">200</text>
</g>
<text class="sn" font-family="Liberation Sans, sans-serif" font-size="48.5" fill="#000" stroke="#000" text-anchor="middle" letter-spacing="0.35" x="1062.50" y="1440.00">Time (s)</text>
<text class="sn" font-family="Liberation Sans, sans-serif" font-size="48.5" fill="#000" stroke="#000" text-anchor="middle" transform="translate(64.00 1042.50) rotate(-90)">Speed (rpm)</text>
<text font-family="Liberation Sans, sans-serif" font-size="70" font-weight="bold" fill="#000" x="269.00" y="867.50">b</text><rect x="428.10" y="1127.85" width="260.80" height="163.80" fill="#fff" stroke="#000" stroke-width="4.20"/><text class="sn" font-family="Liberation Sans, sans-serif" font-size="48.5" fill="#000" stroke="#000" x="451.60" y="1196.25">R=11<tspan font-family="Liberation Serif, serif" stroke-width="0.4" dx="1.25">Ω</tspan></text><text class="sn" font-family="Liberation Sans, sans-serif" font-size="48.5" fill="#000" stroke="#000" x="453.00" y="1258.75">V=0.16L</text><rect x="763.00" y="1130.00" width="1137.00" height="156.25" fill="#fff" stroke="#000" stroke-width="6.00"/><path d="M793.75 1174.00 H960.00" stroke="#0000ff" stroke-width="8.40"/><path d="M793.75 1242.00 H960.00" stroke="#ff0000" stroke-width="8.40" stroke-dasharray="30.5 29.5"/><g font-family="Liberation Serif, serif" font-size="46.0" fill="#000" stroke="#000" transform="translate(974.30 0) scale(1.0522 1)"><text x="0" y="1189.00">1.0Hz20mm, Average Measured, 773.2rpm</text><text x="0" y="1257.20">1.0Hz20mm, Average Predicted, 788.7rpm</text></g>
</g>
</svg>
</body></html>
